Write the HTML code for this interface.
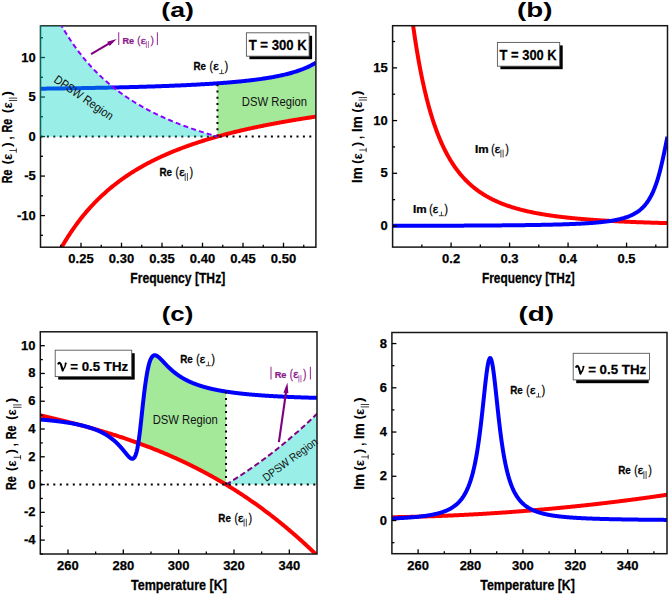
<!DOCTYPE html><html><head><meta charset="utf-8"><style>html,body{margin:0;padding:0;background:#fff;width:669px;height:595px;overflow:hidden}svg{display:block}text{font-family:"Liberation Sans",sans-serif}.tk{font-size:13px;font-weight:bold;stroke:#000;stroke-width:0.25px}</style></head><body>
<svg width="669" height="595" viewBox="0 0 669 595">
<defs>
<clipPath id="ca"><rect x="40.50" y="25.90" width="275.40" height="221.30"/></clipPath>
<clipPath id="cb"><rect x="392.60" y="25.70" width="274.90" height="221.40"/></clipPath>
<clipPath id="cc"><rect x="40.30" y="331.80" width="276.70" height="222.20"/></clipPath>
<clipPath id="cd"><rect x="391.90" y="332.50" width="275.10" height="221.20"/></clipPath>
</defs>
<g clip-path="url(#ca)">
<polygon fill="#a4e89a" points="217.45,83.32 218.70,83.23 219.95,83.14 221.19,83.05 222.44,82.96 223.68,82.86 224.93,82.77 226.18,82.67 227.42,82.57 228.67,82.47 229.91,82.36 231.16,82.26 232.41,82.15 233.65,82.04 234.90,81.93 236.15,81.81 237.39,81.69 238.64,81.58 239.88,81.45 241.13,81.33 242.38,81.20 243.62,81.08 244.87,80.94 246.11,80.81 247.36,80.67 248.61,80.53 249.85,80.39 251.10,80.24 252.35,80.09 253.59,79.94 254.84,79.78 256.08,79.62 257.33,79.46 258.58,79.29 259.82,79.12 261.07,78.94 262.31,78.76 263.56,78.58 264.81,78.39 266.05,78.20 267.30,78.00 268.55,77.80 269.79,77.59 271.04,77.37 272.28,77.15 273.53,76.93 274.78,76.70 276.02,76.46 277.27,76.21 278.52,75.96 279.76,75.70 281.01,75.43 282.25,75.16 283.50,74.88 284.75,74.59 285.99,74.28 287.24,73.97 288.48,73.66 289.73,73.32 290.98,72.98 292.22,72.63 293.47,72.27 294.72,71.89 295.96,71.50 297.21,71.10 298.45,70.68 299.70,70.24 300.95,69.79 302.19,69.32 303.44,68.84 304.68,68.33 305.93,67.80 307.18,67.26 308.42,66.68 309.67,66.09 310.92,65.47 312.16,64.81 313.41,64.13 314.65,63.42 315.90,62.67 315.90,116.60 314.65,116.79 313.41,116.98 312.16,117.17 310.92,117.36 309.67,117.55 308.42,117.74 307.18,117.93 305.93,118.13 304.68,118.33 303.44,118.52 302.19,118.72 300.95,118.92 299.70,119.12 298.45,119.33 297.21,119.53 295.96,119.74 294.72,119.95 293.47,120.15 292.22,120.36 290.98,120.58 289.73,120.79 288.48,121.00 287.24,121.22 285.99,121.44 284.75,121.66 283.50,121.88 282.25,122.10 281.01,122.33 279.76,122.55 278.52,122.78 277.27,123.01 276.02,123.24 274.78,123.47 273.53,123.71 272.28,123.94 271.04,124.18 269.79,124.42 268.55,124.66 267.30,124.91 266.05,125.15 264.81,125.40 263.56,125.65 262.31,125.90 261.07,126.15 259.82,126.41 258.58,126.67 257.33,126.93 256.08,127.19 254.84,127.45 253.59,127.72 252.35,127.99 251.10,128.26 249.85,128.53 248.61,128.81 247.36,129.09 246.11,129.37 244.87,129.65 243.62,129.93 242.38,130.22 241.13,130.51 239.88,130.80 238.64,131.10 237.39,131.40 236.15,131.70 234.90,132.00 233.65,132.30 232.41,132.61 231.16,132.92 229.91,133.24 228.67,133.56 227.42,133.88 226.18,134.20 224.93,134.53 223.68,134.86 222.44,135.19 221.19,135.52 219.95,135.86 218.70,136.20 217.45,136.55"/>
<polyline fill="none" stroke="#0000ff" stroke-width="4.0" points="40.50,88.69 41.42,88.68 42.34,88.67 43.26,88.66 44.18,88.65 45.11,88.64 46.03,88.63 46.95,88.62 47.87,88.61 48.79,88.59 49.71,88.58 50.63,88.57 51.55,88.56 52.47,88.55 53.39,88.54 54.32,88.52 55.24,88.51 56.16,88.50 57.08,88.49 58.00,88.48 58.92,88.46 59.84,88.45 60.76,88.44 61.68,88.43 62.61,88.41 63.53,88.40 64.45,88.39 65.37,88.37 66.29,88.36 67.21,88.35 68.13,88.33 69.05,88.32 69.97,88.31 70.90,88.29 71.82,88.28 72.74,88.26 73.66,88.25 74.58,88.24 75.50,88.22 76.42,88.21 77.34,88.19 78.26,88.18 79.18,88.16 80.11,88.15 81.03,88.13 81.95,88.12 82.87,88.10 83.79,88.09 84.71,88.07 85.63,88.05 86.55,88.04 87.47,88.02 88.40,88.01 89.32,87.99 90.24,87.97 91.16,87.96 92.08,87.94 93.00,87.92 93.92,87.91 94.84,87.89 95.76,87.87 96.69,87.85 97.61,87.84 98.53,87.82 99.45,87.80 100.37,87.78 101.29,87.76 102.21,87.75 103.13,87.73 104.05,87.71 104.97,87.69 105.90,87.67 106.82,87.65 107.74,87.63 108.66,87.61 109.58,87.59 110.50,87.57 111.42,87.55 112.34,87.53 113.26,87.51 114.19,87.49 115.11,87.47 116.03,87.45 116.95,87.43 117.87,87.41 118.79,87.39 119.71,87.36 120.63,87.34 121.55,87.32 122.48,87.30 123.40,87.28 124.32,87.25 125.24,87.23 126.16,87.21 127.08,87.18 128.00,87.16 128.92,87.14 129.84,87.11 130.76,87.09 131.69,87.06 132.61,87.04 133.53,87.02 134.45,86.99 135.37,86.97 136.29,86.94 137.21,86.91 138.13,86.89 139.05,86.86 139.98,86.84 140.90,86.81 141.82,86.78 142.74,86.76 143.66,86.73 144.58,86.70 145.50,86.67 146.42,86.64 147.34,86.62 148.27,86.59 149.19,86.56 150.11,86.53 151.03,86.50 151.95,86.47 152.87,86.44 153.79,86.41 154.71,86.38 155.63,86.35 156.55,86.32 157.48,86.29 158.40,86.25 159.32,86.22 160.24,86.19 161.16,86.16 162.08,86.12 163.00,86.09 163.92,86.06 164.84,86.02 165.77,85.99 166.69,85.95 167.61,85.92 168.53,85.88 169.45,85.85 170.37,85.81 171.29,85.77 172.21,85.74 173.13,85.70 174.06,85.66 174.98,85.62 175.90,85.59 176.82,85.55 177.74,85.51 178.66,85.47 179.58,85.43 180.50,85.39 181.42,85.35 182.34,85.31 183.27,85.26 184.19,85.22 185.11,85.18 186.03,85.14 186.95,85.09 187.87,85.05 188.79,85.00 189.71,84.96 190.63,84.91 191.56,84.87 192.48,84.82 193.40,84.77 194.32,84.72 195.24,84.68 196.16,84.63 197.08,84.58 198.00,84.53 198.92,84.48 199.85,84.43 200.77,84.37 201.69,84.32 202.61,84.27 203.53,84.22 204.45,84.16 205.37,84.11 206.29,84.05 207.21,83.99 208.13,83.94 209.06,83.88 209.98,83.82 210.90,83.76 211.82,83.70 212.74,83.64 213.66,83.58 214.58,83.52 215.50,83.46 216.42,83.39 217.35,83.33 218.27,83.26 219.19,83.20 220.11,83.13 221.03,83.06 221.95,83.00 222.87,82.93 223.79,82.86 224.71,82.78 225.64,82.71 226.56,82.64 227.48,82.56 228.40,82.49 229.32,82.41 230.24,82.33 231.16,82.26 232.08,82.18 233.00,82.10 233.92,82.01 234.85,81.93 235.77,81.85 236.69,81.76 237.61,81.67 238.53,81.59 239.45,81.50 240.37,81.41 241.29,81.31 242.21,81.22 243.14,81.13 244.06,81.03 244.98,80.93 245.90,80.83 246.82,80.73 247.74,80.63 248.66,80.53 249.58,80.42 250.50,80.31 251.43,80.20 252.35,80.09 253.27,79.98 254.19,79.86 255.11,79.75 256.03,79.63 256.95,79.51 257.87,79.39 258.79,79.26 259.71,79.13 260.64,79.01 261.56,78.87 262.48,78.74 263.40,78.60 264.32,78.47 265.24,78.32 266.16,78.18 267.08,78.03 268.00,77.89 268.93,77.73 269.85,77.58 270.77,77.42 271.69,77.26 272.61,77.10 273.53,76.93 274.45,76.76 275.37,76.58 276.29,76.40 277.22,76.22 278.14,76.04 279.06,75.85 279.98,75.66 280.90,75.46 281.82,75.26 282.74,75.05 283.66,74.84 284.58,74.62 285.50,74.40 286.43,74.18 287.35,73.95 288.27,73.71 289.19,73.47 290.11,73.22 291.03,72.97 291.95,72.71 292.87,72.44 293.79,72.17 294.72,71.89 295.64,71.60 296.56,71.31 297.48,71.01 298.40,70.70 299.32,70.38 300.24,70.05 301.16,69.71 302.08,69.36 303.01,69.01 303.93,68.64 304.85,68.26 305.77,67.87 306.69,67.47 307.61,67.06 308.53,66.63 309.45,66.19 310.37,65.74 311.29,65.27 312.22,64.78 313.14,64.28 314.06,63.76 314.98,63.23 315.90,62.67"/>
<polyline fill="none" stroke="#ff0000" stroke-width="4.0" points="52.65,264.37 53.53,262.57 54.41,260.79 55.29,259.05 56.17,257.33 57.05,255.64 57.93,253.97 58.81,252.34 59.69,250.73 60.57,249.14 61.45,247.58 62.33,246.04 63.22,244.53 64.10,243.04 64.98,241.58 65.86,240.13 66.74,238.71 67.62,237.31 68.50,235.93 69.38,234.57 70.26,233.23 71.14,231.91 72.02,230.61 72.90,229.33 73.78,228.06 74.66,226.82 75.54,225.59 76.42,224.38 77.30,223.19 78.18,222.02 79.06,220.86 79.94,219.71 80.82,218.59 81.70,217.47 82.58,216.38 83.47,215.30 84.35,214.23 85.23,213.18 86.11,212.14 86.99,211.11 87.87,210.10 88.75,209.10 89.63,208.12 90.51,207.15 91.39,206.19 92.27,205.24 93.15,204.30 94.03,203.38 94.91,202.47 95.79,201.57 96.67,200.68 97.55,199.80 98.43,198.94 99.31,198.08 100.19,197.24 101.07,196.40 101.95,195.58 102.83,194.76 103.72,193.96 104.60,193.16 105.48,192.38 106.36,191.60 107.24,190.84 108.12,190.08 109.00,189.33 109.88,188.59 110.76,187.86 111.64,187.13 112.52,186.42 113.40,185.71 114.28,185.01 115.16,184.32 116.04,183.64 116.92,182.96 117.80,182.30 118.68,181.63 119.56,180.98 120.44,180.34 121.32,179.70 122.20,179.07 123.08,178.44 123.97,177.82 124.85,177.21 125.73,176.61 126.61,176.01 127.49,175.41 128.37,174.83 129.25,174.25 130.13,173.68 131.01,173.11 131.89,172.55 132.77,171.99 133.65,171.44 134.53,170.89 135.41,170.36 136.29,169.82 137.17,169.29 138.05,168.77 138.93,168.25 139.81,167.74 140.69,167.23 141.57,166.73 142.45,166.23 143.33,165.74 144.22,165.25 145.10,164.77 145.98,164.29 146.86,163.82 147.74,163.35 148.62,162.88 149.50,162.42 150.38,161.96 151.26,161.51 152.14,161.07 153.02,160.62 153.90,160.18 154.78,159.75 155.66,159.32 156.54,158.89 157.42,158.46 158.30,158.05 159.18,157.63 160.06,157.22 160.94,156.81 161.82,156.40 162.70,156.00 163.58,155.61 164.47,155.21 165.35,154.82 166.23,154.43 167.11,154.05 167.99,153.67 168.87,153.29 169.75,152.92 170.63,152.55 171.51,152.18 172.39,151.82 173.27,151.45 174.15,151.10 175.03,150.74 175.91,150.39 176.79,150.04 177.67,149.69 178.55,149.35 179.43,149.01 180.31,148.67 181.19,148.33 182.07,148.00 182.95,147.67 183.83,147.34 184.72,147.02 185.60,146.70 186.48,146.38 187.36,146.06 188.24,145.75 189.12,145.43 190.00,145.12 190.88,144.82 191.76,144.51 192.64,144.21 193.52,143.91 194.40,143.61 195.28,143.32 196.16,143.02 197.04,142.73 197.92,142.44 198.80,142.16 199.68,141.87 200.56,141.59 201.44,141.31 202.32,141.03 203.20,140.75 204.08,140.48 204.97,140.21 205.85,139.94 206.73,139.67 207.61,139.40 208.49,139.14 209.37,138.88 210.25,138.62 211.13,138.36 212.01,138.10 212.89,137.84 213.77,137.59 214.65,137.34 215.53,137.09 216.41,136.84 217.29,136.60 218.17,136.35 219.05,136.11 219.93,135.87 220.81,135.63 221.69,135.39 222.57,135.15 223.45,134.92 224.33,134.68 225.22,134.45 226.10,134.22 226.98,133.99 227.86,133.76 228.74,133.54 229.62,133.31 230.50,133.09 231.38,132.87 232.26,132.65 233.14,132.43 234.02,132.21 234.90,132.00 235.78,131.78 236.66,131.57 237.54,131.36 238.42,131.15 239.30,130.94 240.18,130.73 241.06,130.53 241.94,130.32 242.82,130.12 243.70,129.91 244.58,129.71 245.47,129.51 246.35,129.31 247.23,129.12 248.11,128.92 248.99,128.72 249.87,128.53 250.75,128.34 251.63,128.14 252.51,127.95 253.39,127.76 254.27,127.58 255.15,127.39 256.03,127.20 256.91,127.02 257.79,126.83 258.67,126.65 259.55,126.47 260.43,126.29 261.31,126.10 262.19,125.93 263.07,125.75 263.95,125.57 264.83,125.39 265.72,125.22 266.60,125.05 267.48,124.87 268.36,124.70 269.24,124.53 270.12,124.36 271.00,124.19 271.88,124.02 272.76,123.85 273.64,123.69 274.52,123.52 275.40,123.36 276.28,123.19 277.16,123.03 278.04,122.87 278.92,122.70 279.80,122.54 280.68,122.38 281.56,122.23 282.44,122.07 283.32,121.91 284.20,121.75 285.08,121.60 285.97,121.44 286.85,121.29 287.73,121.14 288.61,120.98 289.49,120.83 290.37,120.68 291.25,120.53 292.13,120.38 293.01,120.23 293.89,120.08 294.77,119.94 295.65,119.79 296.53,119.64 297.41,119.50 298.29,119.35 299.17,119.21 300.05,119.07 300.93,118.93 301.81,118.78 302.69,118.64 303.57,118.50 304.45,118.36 305.33,118.22 306.22,118.08 307.10,117.95 307.98,117.81 308.86,117.67 309.74,117.54 310.62,117.40 311.50,117.27 312.38,117.13 313.26,117.00 314.14,116.87 315.02,116.74 315.90,116.60"/>
</g>
<line x1="40.50" y1="136.55" x2="315.90" y2="136.55" stroke="#000" stroke-width="2" stroke-dasharray="2,4.4"/>
<line x1="217.45" y1="136.55" x2="217.45" y2="83.32" stroke="#000" stroke-width="2" stroke-dasharray="2,4.3"/>
<rect x="40.50" y="25.90" width="275.40" height="221.30" fill="none" stroke="#161616" stroke-width="1.5"/>
<line x1="81.00" y1="247.20" x2="81.00" y2="242.70" stroke="#000" stroke-width="1.3"/>
<text x="81.00" y="262.80" text-anchor="middle" class="tk">0.25</text>
<line x1="121.50" y1="247.20" x2="121.50" y2="242.70" stroke="#000" stroke-width="1.3"/>
<text x="121.50" y="262.80" text-anchor="middle" class="tk">0.30</text>
<line x1="162.00" y1="247.20" x2="162.00" y2="242.70" stroke="#000" stroke-width="1.3"/>
<text x="162.00" y="262.80" text-anchor="middle" class="tk">0.35</text>
<line x1="202.50" y1="247.20" x2="202.50" y2="242.70" stroke="#000" stroke-width="1.3"/>
<text x="202.50" y="262.80" text-anchor="middle" class="tk">0.40</text>
<line x1="243.00" y1="247.20" x2="243.00" y2="242.70" stroke="#000" stroke-width="1.3"/>
<text x="243.00" y="262.80" text-anchor="middle" class="tk">0.45</text>
<line x1="283.50" y1="247.20" x2="283.50" y2="242.70" stroke="#000" stroke-width="1.3"/>
<text x="283.50" y="262.80" text-anchor="middle" class="tk">0.50</text>
<line x1="60.75" y1="247.20" x2="60.75" y2="244.70" stroke="#000" stroke-width="1.3"/>
<line x1="101.25" y1="247.20" x2="101.25" y2="244.70" stroke="#000" stroke-width="1.3"/>
<line x1="141.75" y1="247.20" x2="141.75" y2="244.70" stroke="#000" stroke-width="1.3"/>
<line x1="182.25" y1="247.20" x2="182.25" y2="244.70" stroke="#000" stroke-width="1.3"/>
<line x1="222.75" y1="247.20" x2="222.75" y2="244.70" stroke="#000" stroke-width="1.3"/>
<line x1="263.25" y1="247.20" x2="263.25" y2="244.70" stroke="#000" stroke-width="1.3"/>
<line x1="303.75" y1="247.20" x2="303.75" y2="244.70" stroke="#000" stroke-width="1.3"/>
<line x1="40.50" y1="215.59" x2="45.00" y2="215.59" stroke="#000" stroke-width="1.3"/>
<text x="35.70" y="219.59" text-anchor="end" class="tk">-10</text>
<line x1="40.50" y1="176.07" x2="45.00" y2="176.07" stroke="#000" stroke-width="1.3"/>
<text x="35.70" y="180.07" text-anchor="end" class="tk">-5</text>
<line x1="40.50" y1="136.55" x2="45.00" y2="136.55" stroke="#000" stroke-width="1.3"/>
<text x="35.70" y="140.55" text-anchor="end" class="tk">0</text>
<line x1="40.50" y1="97.03" x2="45.00" y2="97.03" stroke="#000" stroke-width="1.3"/>
<text x="35.70" y="101.03" text-anchor="end" class="tk">5</text>
<line x1="40.50" y1="57.51" x2="45.00" y2="57.51" stroke="#000" stroke-width="1.3"/>
<text x="35.70" y="61.51" text-anchor="end" class="tk">10</text>
<line x1="40.50" y1="235.34" x2="43.00" y2="235.34" stroke="#000" stroke-width="1.3"/>
<line x1="40.50" y1="195.83" x2="43.00" y2="195.83" stroke="#000" stroke-width="1.3"/>
<line x1="40.50" y1="156.31" x2="43.00" y2="156.31" stroke="#000" stroke-width="1.3"/>
<line x1="40.50" y1="116.79" x2="43.00" y2="116.79" stroke="#000" stroke-width="1.3"/>
<line x1="40.50" y1="77.27" x2="43.00" y2="77.27" stroke="#000" stroke-width="1.3"/>
<line x1="40.50" y1="37.76" x2="43.00" y2="37.76" stroke="#000" stroke-width="1.3"/>
<polygon fill="rgba(0,214,196,0.40)" points="39.80,25.20 40.50,25.20 41.39,25.90 42.28,25.90 43.17,25.90 44.06,25.90 44.95,25.90 45.84,25.90 46.72,25.90 47.61,25.90 48.50,25.90 49.39,25.90 50.28,25.90 51.17,25.90 52.06,25.90 52.95,25.90 53.84,25.90 54.73,25.90 55.62,25.90 56.51,25.90 57.40,25.90 58.28,25.90 59.17,25.90 60.06,25.90 60.95,25.90 61.84,26.20 62.73,27.74 63.62,29.26 64.51,30.75 65.40,32.22 66.29,33.67 67.18,35.09 68.07,36.50 68.95,37.88 69.84,39.24 70.73,40.58 71.62,41.91 72.51,43.21 73.40,44.49 74.29,45.76 75.18,47.00 76.07,48.23 76.96,49.44 77.85,50.64 78.74,51.82 79.63,52.98 80.51,54.12 81.40,55.25 82.29,56.36 83.18,57.46 84.07,58.54 84.96,59.61 85.85,60.66 86.74,61.70 87.63,62.73 88.52,63.74 89.41,64.74 90.30,65.72 91.19,66.69 92.07,67.65 92.96,68.60 93.85,69.53 94.74,70.46 95.63,71.37 96.52,72.27 97.41,73.15 98.30,74.03 99.19,74.90 100.08,75.75 100.97,76.60 101.86,77.43 102.74,78.25 103.63,79.07 104.52,79.87 105.41,80.67 106.30,81.45 107.19,82.22 108.08,82.99 108.97,83.75 109.86,84.50 110.75,85.23 111.64,85.97 112.53,86.69 113.42,87.40 114.30,88.11 115.19,88.80 116.08,89.49 116.97,90.18 117.86,90.85 118.75,91.52 119.64,92.17 120.53,92.83 121.42,93.47 122.31,94.11 123.20,94.74 124.09,95.36 124.98,95.98 125.86,96.59 126.75,97.19 127.64,97.79 128.53,98.38 129.42,98.96 130.31,99.54 131.20,100.11 132.09,100.68 132.98,101.24 133.87,101.80 134.76,102.34 135.65,102.89 136.53,103.43 137.42,103.96 138.31,104.48 139.20,105.01 140.09,105.52 140.98,106.03 141.87,106.54 142.76,107.04 143.65,107.54 144.54,108.03 145.43,108.51 146.32,108.99 147.21,109.47 148.09,109.94 148.98,110.41 149.87,110.87 150.76,111.33 151.65,111.79 152.54,112.24 153.43,112.68 154.32,113.13 155.21,113.56 156.10,114.00 156.99,114.43 157.88,114.85 158.77,115.27 159.65,115.69 160.54,116.11 161.43,116.52 162.32,116.92 163.21,117.33 164.10,117.73 164.99,118.12 165.88,118.51 166.77,118.90 167.66,119.29 168.55,119.67 169.44,120.05 170.32,120.42 171.21,120.80 172.10,121.17 172.99,121.53 173.88,121.90 174.77,122.26 175.66,122.61 176.55,122.97 177.44,123.32 178.33,123.66 179.22,124.01 180.11,124.35 181.00,124.69 181.88,125.03 182.77,125.36 183.66,125.69 184.55,126.02 185.44,126.35 186.33,126.67 187.22,126.99 188.11,127.31 189.00,127.62 189.89,127.94 190.78,128.25 191.67,128.56 192.56,128.86 193.44,129.16 194.33,129.47 195.22,129.76 196.11,130.06 197.00,130.35 197.89,130.65 198.78,130.94 199.67,131.22 200.56,131.51 201.45,131.79 202.34,132.07 203.23,132.35 204.11,132.63 205.00,132.90 205.89,133.18 206.78,133.45 207.67,133.72 208.56,133.98 209.45,134.25 210.34,134.51 211.23,134.77 212.12,135.03 213.01,135.29 213.90,135.55 214.79,135.80 215.67,136.05 216.56,136.30 217.45,136.55 217.45,136.85 39.80,136.85"/>
<g clip-path="url(#ca)">
<polyline fill="none" stroke="#8a00ff" stroke-width="2" stroke-dasharray="5,3.2" points="52.65,8.73 53.48,10.42 54.31,12.10 55.13,13.74 55.96,15.37 56.79,16.96 57.62,18.54 58.45,20.09 59.28,21.61 60.10,23.11 60.93,24.60 61.76,26.06 62.59,27.49 63.42,28.91 64.24,30.31 65.07,31.68 65.90,33.04 66.73,34.38 67.56,35.70 68.38,37.00 69.21,38.28 70.04,39.54 70.87,40.79 71.70,42.02 72.53,43.23 73.35,44.43 74.18,45.61 75.01,46.77 75.84,47.92 76.67,49.05 77.49,50.17 78.32,51.27 79.15,52.36 79.98,53.43 80.81,54.49 81.64,55.54 82.46,56.57 83.29,57.59 84.12,58.60 84.95,59.59 85.78,60.58 86.60,61.54 87.43,62.50 88.26,63.45 89.09,64.38 89.92,65.30 90.75,66.21 91.57,67.11 92.40,68.00 93.23,68.88 94.06,69.75 94.89,70.60 95.71,71.45 96.54,72.29 97.37,73.12 98.20,73.93 99.03,74.74 99.85,75.54 100.68,76.33 101.51,77.11 102.34,77.88 103.17,78.64 104.00,79.40 104.82,80.14 105.65,80.88 106.48,81.61 107.31,82.33 108.14,83.04 108.96,83.74 109.79,84.44 110.62,85.13 111.45,85.81 112.28,86.49 113.11,87.15 113.93,87.81 114.76,88.47 115.59,89.11 116.42,89.75 117.25,90.38 118.07,91.01 118.90,91.63 119.73,92.24 120.56,92.85 121.39,93.45 122.22,94.04 123.04,94.63 123.87,95.21 124.70,95.79 125.53,96.36 126.36,96.92 127.18,97.48 128.01,98.04 128.84,98.58 129.67,99.13 130.50,99.66 131.32,100.20 132.15,100.72 132.98,101.24 133.81,101.76 134.64,102.27 135.47,102.78 136.29,103.28 137.12,103.78 137.95,104.27 138.78,104.76 139.61,105.24 140.43,105.72 141.26,106.19 142.09,106.66 142.92,107.13 143.75,107.59 144.58,108.05 145.40,108.50 146.23,108.95 147.06,109.39 147.89,109.83 148.72,110.27 149.54,110.70 150.37,111.13 151.20,111.56 152.03,111.98 152.86,112.40 153.68,112.81 154.51,113.22 155.34,113.63 156.17,114.03 157.00,114.43 157.83,114.83 158.65,115.22 159.48,115.61 160.31,116.00 161.14,116.38 161.97,116.76 162.79,117.14 163.62,117.51 164.45,117.88 165.28,118.25 166.11,118.61 166.94,118.98 167.76,119.33 168.59,119.69 169.42,120.04 170.25,120.39 171.08,120.74 171.90,121.08 172.73,121.43 173.56,121.76 174.39,122.10 175.22,122.43 176.05,122.77 176.87,123.09 177.70,123.42 178.53,123.74 179.36,124.06 180.19,124.38 181.01,124.70 181.84,125.01 182.67,125.32 183.50,125.63 184.33,125.94 185.15,126.24 185.98,126.54 186.81,126.84 187.64,127.14 188.47,127.44 189.30,127.73 190.12,128.02 190.95,128.31 191.78,128.59 192.61,128.88 193.44,129.16 194.26,129.44 195.09,129.72 195.92,130.00 196.75,130.27 197.58,130.54 198.41,130.81 199.23,131.08 200.06,131.35 200.89,131.61 201.72,131.88 202.55,132.14 203.37,132.40 204.20,132.66 205.03,132.91 205.86,133.17 206.69,133.42 207.52,133.67 208.34,133.92 209.17,134.17 210.00,134.41 210.83,134.66 211.66,134.90 212.48,135.14 213.31,135.38 214.14,135.61 214.97,135.85 215.80,136.09 216.62,136.32 217.45,136.55"/>
</g>
<g clip-path="url(#cb)">
<polyline fill="none" stroke="#ff0000" stroke-width="4.0" points="404.30,-53.37 404.96,-46.18 405.62,-39.22 406.28,-32.50 406.94,-26.00 407.60,-19.71 408.26,-13.62 408.92,-7.74 409.58,-2.04 410.23,3.48 410.89,8.83 411.55,14.00 412.21,19.02 412.87,23.88 413.53,28.59 414.19,33.16 414.85,37.59 415.51,41.89 416.17,46.06 416.83,50.11 417.49,54.04 418.15,57.85 418.81,61.55 419.47,65.15 420.13,68.64 420.79,72.04 421.45,75.34 422.11,78.54 422.77,81.66 423.43,84.69 424.09,87.64 424.75,90.50 425.41,93.29 426.07,96.00 426.73,98.65 427.39,101.22 428.05,103.72 428.71,106.16 429.36,108.53 430.02,110.84 430.68,113.09 431.34,115.29 432.00,117.42 432.66,119.51 433.32,121.54 433.98,123.52 434.64,125.45 435.30,127.34 435.96,129.17 436.62,130.96 437.28,132.71 437.94,134.42 438.60,136.09 439.26,137.71 439.92,139.30 440.58,140.85 441.24,142.36 441.90,143.84 442.56,145.28 443.22,146.69 443.88,148.07 444.54,149.42 445.20,150.73 445.86,152.02 446.52,153.27 447.18,154.50 447.84,155.70 448.49,156.88 449.15,158.03 449.81,159.15 450.47,160.25 451.13,161.33 451.79,162.38 452.45,163.41 453.11,164.42 453.77,165.40 454.43,166.37 455.09,167.32 455.75,168.24 456.41,169.15 457.07,170.04 457.73,170.90 458.39,171.76 459.05,172.59 459.71,173.41 460.37,174.21 461.03,174.99 461.69,175.76 462.35,176.52 463.01,177.26 463.67,177.98 464.33,178.69 464.99,179.39 465.65,180.07 466.31,180.74 466.97,181.40 467.62,182.04 468.28,182.67 468.94,183.29 469.60,183.90 470.26,184.50 470.92,185.08 471.58,185.66 472.24,186.22 472.90,186.77 473.56,187.32 474.22,187.85 474.88,188.37 475.54,188.89 476.20,189.39 476.86,189.89 477.52,190.38 478.18,190.86 478.84,191.33 479.50,191.79 480.16,192.24 480.82,192.69 481.48,193.12 482.14,193.55 482.80,193.98 483.46,194.39 484.12,194.80 484.78,195.20 485.44,195.60 486.10,195.98 486.75,196.37 487.41,196.74 488.07,197.11 488.73,197.47 489.39,197.83 490.05,198.18 490.71,198.52 491.37,198.86 492.03,199.20 492.69,199.52 493.35,199.85 494.01,200.17 494.67,200.48 495.33,200.79 495.99,201.09 496.65,201.39 497.31,201.68 497.97,201.97 498.63,202.25 499.29,202.53 499.95,202.81 500.61,203.08 501.27,203.34 501.93,203.61 502.59,203.87 503.25,204.12 503.91,204.37 504.57,204.62 505.23,204.86 505.88,205.10 506.54,205.34 507.20,205.57 507.86,205.80 508.52,206.02 509.18,206.25 509.84,206.47 510.50,206.68 511.16,206.89 511.82,207.10 512.48,207.31 513.14,207.51 513.80,207.71 514.46,207.91 515.12,208.11 515.78,208.30 516.44,208.49 517.10,208.67 517.76,208.86 518.42,209.04 519.08,209.22 519.74,209.40 520.40,209.57 521.06,209.74 521.72,209.91 522.38,210.08 523.04,210.24 523.70,210.40 524.35,210.56 525.01,210.72 525.67,210.88 526.33,211.03 526.99,211.18 527.65,211.33 528.31,211.48 528.97,211.63 529.63,211.77 530.29,211.91 530.95,212.05 531.61,212.19 532.27,212.33 532.93,212.46 533.59,212.59 534.25,212.72 534.91,212.85 535.57,212.98 536.23,213.11 536.89,213.23 537.55,213.35 538.21,213.48 538.87,213.59 539.53,213.71 540.19,213.83 540.85,213.95 541.51,214.06 542.17,214.17 542.83,214.28 543.48,214.39 544.14,214.50 544.80,214.61 545.46,214.71 546.12,214.82 546.78,214.92 547.44,215.02 548.10,215.12 548.76,215.22 549.42,215.32 550.08,215.42 550.74,215.51 551.40,215.61 552.06,215.70 552.72,215.79 553.38,215.88 554.04,215.97 554.70,216.06 555.36,216.15 556.02,216.24 556.68,216.32 557.34,216.41 558.00,216.49 558.66,216.58 559.32,216.66 559.98,216.74 560.64,216.82 561.30,216.90 561.96,216.98 562.61,217.05 563.27,217.13 563.93,217.21 564.59,217.28 565.25,217.36 565.91,217.43 566.57,217.50 567.23,217.57 567.89,217.64 568.55,217.71 569.21,217.78 569.87,217.85 570.53,217.92 571.19,217.99 571.85,218.05 572.51,218.12 573.17,218.18 573.83,218.25 574.49,218.31 575.15,218.37 575.81,218.43 576.47,218.50 577.13,218.56 577.79,218.62 578.45,218.68 579.11,218.73 579.77,218.79 580.43,218.85 581.09,218.91 581.74,218.96 582.40,219.02 583.06,219.07 583.72,219.13 584.38,219.18 585.04,219.24 585.70,219.29 586.36,219.34 587.02,219.39 587.68,219.44 588.34,219.49 589.00,219.54 589.66,219.59 590.32,219.64 590.98,219.69 591.64,219.74 592.30,219.79 592.96,219.84 593.62,219.88 594.28,219.93 594.94,219.97 595.60,220.02 596.26,220.06 596.92,220.11 597.58,220.15 598.24,220.20 598.90,220.24 599.56,220.28 600.22,220.32 600.87,220.37 601.53,220.41 602.19,220.45 602.85,220.49 603.51,220.53 604.17,220.57 604.83,220.61 605.49,220.65 606.15,220.69 606.81,220.73 607.47,220.76 608.13,220.80 608.79,220.84 609.45,220.88 610.11,220.91 610.77,220.95 611.43,220.98 612.09,221.02 612.75,221.05 613.41,221.09 614.07,221.12 614.73,221.16 615.39,221.19 616.05,221.23 616.71,221.26 617.37,221.29 618.03,221.32 618.69,221.36 619.35,221.39 620.00,221.42 620.66,221.45 621.32,221.48 621.98,221.51 622.64,221.55 623.30,221.58 623.96,221.61 624.62,221.64 625.28,221.67 625.94,221.69 626.60,221.72 627.26,221.75 627.92,221.78 628.58,221.81 629.24,221.84 629.90,221.86 630.56,221.89 631.22,221.92 631.88,221.95 632.54,221.97 633.20,222.00 633.86,222.03 634.52,222.05 635.18,222.08 635.84,222.10 636.50,222.13 637.16,222.15 637.82,222.18 638.48,222.20 639.13,222.23 639.79,222.25 640.45,222.28 641.11,222.30 641.77,222.33 642.43,222.35 643.09,222.37 643.75,222.40 644.41,222.42 645.07,222.44 645.73,222.46 646.39,222.49 647.05,222.51 647.71,222.53 648.37,222.55 649.03,222.57 649.69,222.59 650.35,222.62 651.01,222.64 651.67,222.66 652.33,222.68 652.99,222.70 653.65,222.72 654.31,222.74 654.97,222.76 655.63,222.78 656.29,222.80 656.95,222.82 657.61,222.84 658.26,222.86 658.92,222.88 659.58,222.90 660.24,222.91 660.90,222.93 661.56,222.95 662.22,222.97 662.88,222.99 663.54,223.01 664.20,223.02 664.86,223.04 665.52,223.06 666.18,223.08 666.84,223.09 667.50,223.11"/>
<polyline fill="none" stroke="#0000ff" stroke-width="4.0" points="392.60,225.88 393.29,225.88 393.98,225.87 394.67,225.87 395.36,225.87 396.04,225.87 396.73,225.87 397.42,225.87 398.11,225.86 398.80,225.86 399.49,225.86 400.18,225.86 400.87,225.86 401.56,225.85 402.25,225.85 402.93,225.85 403.62,225.85 404.31,225.85 405.00,225.84 405.69,225.84 406.38,225.84 407.07,225.84 407.76,225.84 408.45,225.83 409.14,225.83 409.82,225.83 410.51,225.83 411.20,225.83 411.89,225.82 412.58,225.82 413.27,225.82 413.96,225.82 414.65,225.82 415.34,225.81 416.03,225.81 416.71,225.81 417.40,225.81 418.09,225.81 418.78,225.80 419.47,225.80 420.16,225.80 420.85,225.80 421.54,225.79 422.23,225.79 422.91,225.79 423.60,225.79 424.29,225.79 424.98,225.78 425.67,225.78 426.36,225.78 427.05,225.78 427.74,225.77 428.43,225.77 429.12,225.77 429.80,225.77 430.49,225.76 431.18,225.76 431.87,225.76 432.56,225.76 433.25,225.75 433.94,225.75 434.63,225.75 435.32,225.75 436.01,225.74 436.69,225.74 437.38,225.74 438.07,225.74 438.76,225.73 439.45,225.73 440.14,225.73 440.83,225.73 441.52,225.72 442.21,225.72 442.89,225.72 443.58,225.72 444.27,225.71 444.96,225.71 445.65,225.71 446.34,225.70 447.03,225.70 447.72,225.70 448.41,225.70 449.10,225.69 449.78,225.69 450.47,225.69 451.16,225.68 451.85,225.68 452.54,225.68 453.23,225.67 453.92,225.67 454.61,225.67 455.30,225.67 455.99,225.66 456.67,225.66 457.36,225.66 458.05,225.65 458.74,225.65 459.43,225.65 460.12,225.64 460.81,225.64 461.50,225.64 462.19,225.63 462.88,225.63 463.56,225.63 464.25,225.62 464.94,225.62 465.63,225.62 466.32,225.61 467.01,225.61 467.70,225.60 468.39,225.60 469.08,225.60 469.76,225.59 470.45,225.59 471.14,225.59 471.83,225.58 472.52,225.58 473.21,225.57 473.90,225.57 474.59,225.57 475.28,225.56 475.97,225.56 476.65,225.55 477.34,225.55 478.03,225.55 478.72,225.54 479.41,225.54 480.10,225.53 480.79,225.53 481.48,225.52 482.17,225.52 482.86,225.52 483.54,225.51 484.23,225.51 484.92,225.50 485.61,225.50 486.30,225.49 486.99,225.49 487.68,225.48 488.37,225.48 489.06,225.47 489.75,225.47 490.43,225.46 491.12,225.46 491.81,225.45 492.50,225.45 493.19,225.44 493.88,225.44 494.57,225.43 495.26,225.43 495.95,225.42 496.63,225.42 497.32,225.41 498.01,225.40 498.70,225.40 499.39,225.39 500.08,225.39 500.77,225.38 501.46,225.38 502.15,225.37 502.84,225.36 503.52,225.36 504.21,225.35 504.90,225.35 505.59,225.34 506.28,225.33 506.97,225.33 507.66,225.32 508.35,225.31 509.04,225.31 509.73,225.30 510.41,225.29 511.10,225.29 511.79,225.28 512.48,225.27 513.17,225.26 513.86,225.26 514.55,225.25 515.24,225.24 515.93,225.23 516.62,225.23 517.30,225.22 517.99,225.21 518.68,225.20 519.37,225.19 520.06,225.19 520.75,225.18 521.44,225.17 522.13,225.16 522.82,225.15 523.50,225.14 524.19,225.13 524.88,225.13 525.57,225.12 526.26,225.11 526.95,225.10 527.64,225.09 528.33,225.08 529.02,225.07 529.71,225.06 530.39,225.05 531.08,225.04 531.77,225.03 532.46,225.02 533.15,225.01 533.84,225.00 534.53,224.99 535.22,224.97 535.91,224.96 536.60,224.95 537.28,224.94 537.97,224.93 538.66,224.92 539.35,224.90 540.04,224.89 540.73,224.88 541.42,224.87 542.11,224.85 542.80,224.84 543.48,224.83 544.17,224.82 544.86,224.80 545.55,224.79 546.24,224.77 546.93,224.76 547.62,224.74 548.31,224.73 549.00,224.71 549.69,224.70 550.37,224.68 551.06,224.67 551.75,224.65 552.44,224.64 553.13,224.62 553.82,224.60 554.51,224.59 555.20,224.57 555.89,224.55 556.58,224.53 557.26,224.51 557.95,224.50 558.64,224.48 559.33,224.46 560.02,224.44 560.71,224.42 561.40,224.40 562.09,224.38 562.78,224.36 563.47,224.33 564.15,224.31 564.84,224.29 565.53,224.27 566.22,224.24 566.91,224.22 567.60,224.20 568.29,224.17 568.98,224.15 569.67,224.12 570.35,224.10 571.04,224.07 571.73,224.04 572.42,224.02 573.11,223.99 573.80,223.96 574.49,223.93 575.18,223.90 575.87,223.87 576.56,223.84 577.24,223.81 577.93,223.78 578.62,223.74 579.31,223.71 580.00,223.68 580.69,223.64 581.38,223.60 582.07,223.57 582.76,223.53 583.45,223.49 584.13,223.45 584.82,223.41 585.51,223.37 586.20,223.33 586.89,223.29 587.58,223.24 588.27,223.20 588.96,223.15 589.65,223.11 590.34,223.06 591.02,223.01 591.71,222.96 592.40,222.91 593.09,222.85 593.78,222.80 594.47,222.74 595.16,222.69 595.85,222.63 596.54,222.57 597.22,222.51 597.91,222.44 598.60,222.38 599.29,222.31 599.98,222.25 600.67,222.18 601.36,222.10 602.05,222.03 602.74,221.95 603.43,221.88 604.11,221.80 604.80,221.71 605.49,221.63 606.18,221.54 606.87,221.45 607.56,221.36 608.25,221.26 608.94,221.16 609.63,221.06 610.32,220.96 611.00,220.85 611.69,220.74 612.38,220.63 613.07,220.51 613.76,220.39 614.45,220.26 615.14,220.13 615.83,220.00 616.52,219.86 617.21,219.71 617.89,219.56 618.58,219.41 619.27,219.25 619.96,219.09 620.65,218.92 621.34,218.74 622.03,218.56 622.72,218.37 623.41,218.17 624.09,217.97 624.78,217.75 625.47,217.53 626.16,217.31 626.85,217.07 627.54,216.82 628.23,216.56 628.92,216.30 629.61,216.02 630.30,215.73 630.98,215.42 631.67,215.11 632.36,214.78 633.05,214.43 633.74,214.08 634.43,213.70 635.12,213.31 635.81,212.90 636.50,212.47 637.19,212.02 637.87,211.55 638.56,211.05 639.25,210.53 639.94,209.99 640.63,209.42 641.32,208.82 642.01,208.19 642.70,207.53 643.39,206.83 644.07,206.09 644.76,205.32 645.45,204.50 646.14,203.64 646.83,202.73 647.52,201.77 648.21,200.76 648.90,199.68 649.59,198.55 650.28,197.35 650.96,196.08 651.65,194.74 652.34,193.32 653.03,191.82 653.72,190.22 654.41,188.54 655.10,186.75 655.79,184.87 656.48,182.87 657.17,180.76 657.85,178.54 658.54,176.20 659.23,173.73 659.92,171.14 660.61,168.43 661.30,165.60 661.99,162.65 662.68,159.59 663.37,156.44 664.06,153.21 664.74,149.92 665.43,146.60 666.12,143.28 666.81,140.00 667.50,136.79"/>
</g>
<rect x="392.60" y="25.70" width="274.90" height="221.40" fill="none" stroke="#161616" stroke-width="1.5"/>
<line x1="451.09" y1="247.10" x2="451.09" y2="242.60" stroke="#000" stroke-width="1.3"/>
<text x="451.09" y="262.80" text-anchor="middle" class="tk">0.2</text>
<line x1="509.58" y1="247.10" x2="509.58" y2="242.60" stroke="#000" stroke-width="1.3"/>
<text x="509.58" y="262.80" text-anchor="middle" class="tk">0.3</text>
<line x1="568.07" y1="247.10" x2="568.07" y2="242.60" stroke="#000" stroke-width="1.3"/>
<text x="568.07" y="262.80" text-anchor="middle" class="tk">0.4</text>
<line x1="626.56" y1="247.10" x2="626.56" y2="242.60" stroke="#000" stroke-width="1.3"/>
<text x="626.56" y="262.80" text-anchor="middle" class="tk">0.5</text>
<line x1="421.84" y1="247.10" x2="421.84" y2="244.60" stroke="#000" stroke-width="1.3"/>
<line x1="480.33" y1="247.10" x2="480.33" y2="244.60" stroke="#000" stroke-width="1.3"/>
<line x1="538.82" y1="247.10" x2="538.82" y2="244.60" stroke="#000" stroke-width="1.3"/>
<line x1="597.31" y1="247.10" x2="597.31" y2="244.60" stroke="#000" stroke-width="1.3"/>
<line x1="655.80" y1="247.10" x2="655.80" y2="244.60" stroke="#000" stroke-width="1.3"/>
<line x1="392.60" y1="226.01" x2="397.10" y2="226.01" stroke="#000" stroke-width="1.3"/>
<text x="387.80" y="230.01" text-anchor="end" class="tk">0</text>
<line x1="392.60" y1="173.30" x2="397.10" y2="173.30" stroke="#000" stroke-width="1.3"/>
<text x="387.80" y="177.30" text-anchor="end" class="tk">5</text>
<line x1="392.60" y1="120.59" x2="397.10" y2="120.59" stroke="#000" stroke-width="1.3"/>
<text x="387.80" y="124.59" text-anchor="end" class="tk">10</text>
<line x1="392.60" y1="67.87" x2="397.10" y2="67.87" stroke="#000" stroke-width="1.3"/>
<text x="387.80" y="71.87" text-anchor="end" class="tk">15</text>
<line x1="392.60" y1="199.66" x2="395.10" y2="199.66" stroke="#000" stroke-width="1.3"/>
<line x1="392.60" y1="146.94" x2="395.10" y2="146.94" stroke="#000" stroke-width="1.3"/>
<line x1="392.60" y1="94.23" x2="395.10" y2="94.23" stroke="#000" stroke-width="1.3"/>
<line x1="392.60" y1="41.51" x2="395.10" y2="41.51" stroke="#000" stroke-width="1.3"/>
<g clip-path="url(#cc)">
<polygon fill="#a4e89a" points="138.34,443.08 139.07,438.05 139.81,432.31 140.55,425.98 141.28,419.26 142.02,412.38 142.76,405.56 143.49,398.96 144.23,392.72 144.97,386.92 145.70,381.59 146.44,376.78 147.18,372.50 147.91,368.75 148.65,365.53 149.39,362.83 150.13,360.62 150.86,358.85 151.60,357.49 152.34,356.50 153.07,355.83 153.81,355.43 154.55,355.27 155.28,355.31 156.02,355.51 156.76,355.85 157.49,356.30 158.23,356.83 158.97,357.44 159.70,358.11 160.44,358.81 161.18,359.55 161.91,360.31 162.65,361.08 163.39,361.86 164.13,362.63 164.86,363.41 165.60,364.18 166.34,364.94 167.07,365.70 167.81,366.43 168.55,367.16 169.28,367.87 170.02,368.57 170.76,369.24 171.49,369.91 172.23,370.55 172.97,371.18 173.70,371.80 174.44,372.40 175.18,372.98 175.92,373.55 176.65,374.10 177.39,374.63 178.13,375.15 178.86,375.66 179.60,376.15 180.34,376.63 181.07,377.10 181.81,377.55 182.55,378.00 183.28,378.43 184.02,378.84 184.76,379.25 185.49,379.65 186.23,380.03 186.97,380.41 187.70,380.77 188.44,381.13 189.18,381.47 189.92,381.81 190.65,382.14 191.39,382.46 192.13,382.77 192.86,383.08 193.60,383.38 194.34,383.67 195.07,383.95 195.81,384.23 196.55,384.50 197.28,384.76 198.02,385.02 198.76,385.27 199.49,385.51 200.23,385.75 200.97,385.98 201.71,386.21 202.44,386.44 203.18,386.65 203.92,386.87 204.65,387.08 205.39,387.28 206.13,387.48 206.86,387.67 207.60,387.87 208.34,388.05 209.07,388.24 209.81,388.42 210.55,388.59 211.28,388.76 212.02,388.93 212.76,389.10 213.49,389.26 214.23,389.42 214.97,389.57 215.71,389.72 216.44,389.87 217.18,390.02 217.92,390.16 218.65,390.30 219.39,390.44 220.13,390.58 220.86,390.71 221.60,390.84 222.34,390.97 223.07,391.09 223.81,391.21 224.55,391.34 225.28,391.45 226.02,391.57 226.02,484.56 225.28,484.12 224.55,483.68 223.81,483.24 223.07,482.80 222.34,482.36 221.60,481.93 220.86,481.50 220.13,481.07 219.39,480.64 218.65,480.21 217.92,479.79 217.18,479.36 216.44,478.94 215.71,478.52 214.97,478.10 214.23,477.69 213.49,477.27 212.76,476.86 212.02,476.45 211.28,476.04 210.55,475.63 209.81,475.22 209.07,474.82 208.34,474.42 207.60,474.02 206.86,473.62 206.13,473.22 205.39,472.82 204.65,472.43 203.92,472.04 203.18,471.65 202.44,471.26 201.71,470.87 200.97,470.48 200.23,470.10 199.49,469.72 198.76,469.34 198.02,468.96 197.28,468.58 196.55,468.20 195.81,467.83 195.07,467.46 194.34,467.08 193.60,466.71 192.86,466.35 192.13,465.98 191.39,465.61 190.65,465.25 189.92,464.89 189.18,464.53 188.44,464.17 187.70,463.81 186.97,463.46 186.23,463.10 185.49,462.75 184.76,462.40 184.02,462.05 183.28,461.70 182.55,461.36 181.81,461.01 181.07,460.67 180.34,460.33 179.60,459.98 178.86,459.65 178.13,459.31 177.39,458.97 176.65,458.64 175.92,458.30 175.18,457.97 174.44,457.64 173.70,457.31 172.97,456.99 172.23,456.66 171.49,456.33 170.76,456.01 170.02,455.69 169.28,455.37 168.55,455.05 167.81,454.73 167.07,454.42 166.34,454.10 165.60,453.79 164.86,453.47 164.13,453.16 163.39,452.85 162.65,452.55 161.91,452.24 161.18,451.93 160.44,451.63 159.70,451.33 158.97,451.02 158.23,450.72 157.49,450.43 156.76,450.13 156.02,449.83 155.28,449.54 154.55,449.24 153.81,448.95 153.07,448.66 152.34,448.37 151.60,448.08 150.86,447.79 150.13,447.51 149.39,447.22 148.65,446.94 147.91,446.65 147.18,446.37 146.44,446.09 145.70,445.81 144.97,445.54 144.23,445.26 143.49,444.98 142.76,444.71 142.02,444.44 141.28,444.16 140.55,443.89 139.81,443.62 139.07,443.36 138.34,443.09"/>
<polygon fill="rgba(0,214,196,0.40)" points="226.02,484.56 226.94,484.01 227.86,483.45 228.78,482.89 229.70,482.32 230.62,481.76 231.54,481.19 232.45,480.61 233.37,480.04 234.29,479.46 235.21,478.88 236.13,478.29 237.05,477.70 237.97,477.11 238.89,476.52 239.81,475.92 240.72,475.32 241.64,474.72 242.56,474.11 243.48,473.50 244.40,472.89 245.32,472.27 246.24,471.66 247.16,471.03 248.08,470.41 249.00,469.78 249.91,469.15 250.83,468.52 251.75,467.88 252.67,467.24 253.59,466.60 254.51,465.95 255.43,465.30 256.35,464.64 257.27,463.99 258.19,463.33 259.10,462.66 260.02,462.00 260.94,461.33 261.86,460.65 262.78,459.98 263.70,459.30 264.62,458.62 265.54,457.93 266.46,457.24 267.38,456.55 268.29,455.85 269.21,455.15 270.13,454.45 271.05,453.74 271.97,453.03 272.89,452.31 273.81,451.60 274.73,450.88 275.65,450.15 276.57,449.43 277.48,448.69 278.40,447.96 279.32,447.22 280.24,446.48 281.16,445.73 282.08,444.99 283.00,444.23 283.92,443.48 284.84,442.72 285.75,441.95 286.67,441.19 287.59,440.42 288.51,439.64 289.43,438.87 290.35,438.08 291.27,437.30 292.19,436.51 293.11,435.72 294.03,434.92 294.94,434.12 295.86,433.32 296.78,432.51 297.70,431.70 298.62,430.89 299.54,430.07 300.46,429.24 301.38,428.42 302.30,427.59 303.22,426.75 304.13,425.92 305.05,425.08 305.97,424.23 306.89,423.38 307.81,422.53 308.73,421.67 309.65,420.81 310.57,419.94 311.49,419.08 312.41,418.20 313.32,417.33 314.24,416.45 315.16,415.56 316.08,414.67 317.00,413.78 317.00,484.56 226.02,484.56"/>
<polyline fill="none" stroke="#ff0000" stroke-width="4.0" points="40.30,415.37 40.99,415.53 41.69,415.69 42.38,415.84 43.07,416.00 43.77,416.16 44.46,416.32 45.15,416.48 45.85,416.64 46.54,416.80 47.23,416.96 47.93,417.12 48.62,417.28 49.32,417.45 50.01,417.61 50.70,417.77 51.40,417.93 52.09,418.10 52.78,418.26 53.48,418.43 54.17,418.59 54.86,418.76 55.56,418.92 56.25,419.09 56.94,419.25 57.64,419.42 58.33,419.59 59.02,419.75 59.72,419.92 60.41,420.09 61.10,420.26 61.80,420.43 62.49,420.60 63.18,420.77 63.88,420.94 64.57,421.11 65.27,421.28 65.96,421.46 66.65,421.63 67.35,421.80 68.04,421.98 68.73,422.15 69.43,422.32 70.12,422.50 70.81,422.68 71.51,422.85 72.20,423.03 72.89,423.21 73.59,423.38 74.28,423.56 74.97,423.74 75.67,423.92 76.36,424.10 77.05,424.28 77.75,424.46 78.44,424.65 79.14,424.83 79.83,425.01 80.52,425.19 81.22,425.38 81.91,425.56 82.60,425.75 83.30,425.94 83.99,426.12 84.68,426.31 85.38,426.50 86.07,426.69 86.76,426.88 87.46,427.07 88.15,427.26 88.84,427.45 89.54,427.64 90.23,427.83 90.92,428.02 91.62,428.22 92.31,428.41 93.00,428.61 93.70,428.80 94.39,429.00 95.09,429.20 95.78,429.40 96.47,429.59 97.17,429.79 97.86,429.99 98.55,430.20 99.25,430.40 99.94,430.60 100.63,430.80 101.33,431.01 102.02,431.21 102.71,431.42 103.41,431.62 104.10,431.83 104.79,432.04 105.49,432.24 106.18,432.45 106.87,432.66 107.57,432.87 108.26,433.09 108.95,433.30 109.65,433.51 110.34,433.72 111.04,433.94 111.73,434.15 112.42,434.37 113.12,434.59 113.81,434.81 114.50,435.02 115.20,435.24 115.89,435.47 116.58,435.69 117.28,435.91 117.97,436.13 118.66,436.36 119.36,436.58 120.05,436.81 120.74,437.03 121.44,437.26 122.13,437.49 122.82,437.72 123.52,437.95 124.21,438.18 124.91,438.41 125.60,438.64 126.29,438.88 126.99,439.11 127.68,439.35 128.37,439.58 129.07,439.82 129.76,440.06 130.45,440.30 131.15,440.54 131.84,440.78 132.53,441.02 133.23,441.27 133.92,441.51 134.61,441.76 135.31,442.00 136.00,442.25 136.69,442.50 137.39,442.75 138.08,443.00 138.77,443.25 139.47,443.50 140.16,443.75 140.86,444.01 141.55,444.26 142.24,444.52 142.94,444.78 143.63,445.03 144.32,445.29 145.02,445.55 145.71,445.82 146.40,446.08 147.10,446.34 147.79,446.61 148.48,446.87 149.18,447.14 149.87,447.41 150.56,447.68 151.26,447.95 151.95,448.22 152.64,448.49 153.34,448.76 154.03,449.04 154.72,449.31 155.42,449.59 156.11,449.87 156.81,450.15 157.50,450.43 158.19,450.71 158.89,450.99 159.58,451.27 160.27,451.56 160.97,451.85 161.66,452.13 162.35,452.42 163.05,452.71 163.74,453.00 164.43,453.29 165.13,453.59 165.82,453.88 166.51,454.18 167.21,454.47 167.90,454.77 168.59,455.07 169.29,455.37 169.98,455.67 170.67,455.97 171.37,456.28 172.06,456.58 172.76,456.89 173.45,457.20 174.14,457.51 174.84,457.82 175.53,458.13 176.22,458.44 176.92,458.76 177.61,459.07 178.30,459.39 179.00,459.71 179.69,460.03 180.38,460.35 181.08,460.67 181.77,460.99 182.46,461.32 183.16,461.64 183.85,461.97 184.54,462.30 185.24,462.63 185.93,462.96 186.63,463.29 187.32,463.63 188.01,463.96 188.71,464.30 189.40,464.64 190.09,464.98 190.79,465.32 191.48,465.66 192.17,466.00 192.87,466.35 193.56,466.69 194.25,467.04 194.95,467.39 195.64,467.74 196.33,468.09 197.03,468.45 197.72,468.80 198.41,469.16 199.11,469.52 199.80,469.88 200.49,470.24 201.19,470.60 201.88,470.96 202.58,471.33 203.27,471.69 203.96,472.06 204.66,472.43 205.35,472.80 206.04,473.17 206.74,473.55 207.43,473.92 208.12,474.30 208.82,474.68 209.51,475.06 210.20,475.44 210.90,475.82 211.59,476.21 212.28,476.59 212.98,476.98 213.67,477.37 214.36,477.76 215.06,478.15 215.75,478.55 216.44,478.94 217.14,479.34 217.83,479.74 218.53,480.14 219.22,480.54 219.91,480.94 220.61,481.35 221.30,481.75 221.99,482.16 222.69,482.57 223.38,482.98 224.07,483.39 224.77,483.81 225.46,484.22 226.15,484.64 226.85,485.06 227.54,485.48 228.23,485.91 228.93,486.33 229.62,486.76 230.31,487.18 231.01,487.61 231.70,488.04 232.39,488.48 233.09,488.91 233.78,489.35 234.48,489.78 235.17,490.22 235.86,490.66 236.56,491.11 237.25,491.55 237.94,492.00 238.64,492.44 239.33,492.89 240.02,493.35 240.72,493.80 241.41,494.25 242.10,494.71 242.80,495.17 243.49,495.63 244.18,496.09 244.88,496.55 245.57,497.02 246.26,497.49 246.96,497.95 247.65,498.43 248.35,498.90 249.04,499.37 249.73,499.85 250.43,500.33 251.12,500.81 251.81,501.29 252.51,501.77 253.20,502.26 253.89,502.74 254.59,503.23 255.28,503.72 255.97,504.21 256.67,504.71 257.36,505.20 258.05,505.70 258.75,506.20 259.44,506.70 260.13,507.21 260.83,507.71 261.52,508.22 262.21,508.73 262.91,509.24 263.60,509.75 264.30,510.27 264.99,510.79 265.68,511.30 266.38,511.83 267.07,512.35 267.76,512.87 268.46,513.40 269.15,513.93 269.84,514.46 270.54,514.99 271.23,515.52 271.92,516.06 272.62,516.60 273.31,517.14 274.00,517.68 274.70,518.22 275.39,518.77 276.08,519.32 276.78,519.87 277.47,520.42 278.16,520.97 278.86,521.53 279.55,522.09 280.25,522.65 280.94,523.21 281.63,523.78 282.33,524.34 283.02,524.91 283.71,525.48 284.41,526.05 285.10,526.63 285.79,527.20 286.49,527.78 287.18,528.36 287.87,528.94 288.57,529.53 289.26,530.12 289.95,530.70 290.65,531.29 291.34,531.89 292.03,532.48 292.73,533.08 293.42,533.68 294.12,534.28 294.81,534.88 295.50,535.49 296.20,536.10 296.89,536.71 297.58,537.32 298.28,537.93 298.97,538.55 299.66,539.17 300.36,539.79 301.05,540.41 301.74,541.04 302.44,541.66 303.13,542.29 303.82,542.92 304.52,543.56 305.21,544.19 305.90,544.83 306.60,545.47 307.29,546.12 307.98,546.76 308.68,547.41 309.37,548.06 310.07,548.71 310.76,549.36 311.45,550.02 312.15,550.67 312.84,551.34 313.53,552.00 314.23,552.66 314.92,553.33 315.61,554.00 316.31,554.67 317.00,555.34"/>
<polyline fill="none" stroke="#0000ff" stroke-width="4.0" points="40.30,419.52 40.65,419.55 40.99,419.58 41.34,419.61 41.69,419.63 42.03,419.66 42.38,419.69 42.72,419.72 43.07,419.75 43.42,419.78 43.76,419.81 44.11,419.84 44.46,419.87 44.80,419.90 45.15,419.93 45.49,419.96 45.84,419.99 46.19,420.03 46.53,420.06 46.88,420.09 47.23,420.12 47.57,420.16 47.92,420.19 48.27,420.22 48.61,420.26 48.96,420.29 49.30,420.32 49.65,420.36 50.00,420.39 50.34,420.43 50.69,420.46 51.04,420.50 51.38,420.53 51.73,420.57 52.07,420.61 52.42,420.64 52.77,420.68 53.11,420.72 53.46,420.76 53.81,420.79 54.15,420.83 54.50,420.87 54.84,420.91 55.19,420.95 55.54,420.99 55.88,421.03 56.23,421.07 56.58,421.11 56.92,421.15 57.27,421.19 57.62,421.24 57.96,421.28 58.31,421.32 58.65,421.36 59.00,421.41 59.35,421.45 59.69,421.50 60.04,421.54 60.39,421.59 60.73,421.63 61.08,421.68 61.42,421.72 61.77,421.77 62.12,421.82 62.46,421.86 62.81,421.91 63.16,421.96 63.50,422.01 63.85,422.06 64.20,422.11 64.54,422.16 64.89,422.21 65.23,422.26 65.58,422.31 65.93,422.36 66.27,422.42 66.62,422.47 66.97,422.52 67.31,422.58 67.66,422.63 68.00,422.69 68.35,422.74 68.70,422.80 69.04,422.86 69.39,422.91 69.74,422.97 70.08,423.03 70.43,423.09 70.78,423.15 71.12,423.21 71.47,423.27 71.81,423.33 72.16,423.39 72.51,423.46 72.85,423.52 73.20,423.58 73.55,423.65 73.89,423.71 74.24,423.78 74.58,423.85 74.93,423.91 75.28,423.98 75.62,424.05 75.97,424.12 76.32,424.19 76.66,424.26 77.01,424.33 77.35,424.41 77.70,424.48 78.05,424.55 78.39,424.63 78.74,424.70 79.09,424.78 79.43,424.86 79.78,424.94 80.13,425.02 80.47,425.10 80.82,425.18 81.16,425.26 81.51,425.34 81.86,425.42 82.20,425.51 82.55,425.59 82.90,425.68 83.24,425.77 83.59,425.86 83.93,425.94 84.28,426.04 84.63,426.13 84.97,426.22 85.32,426.31 85.67,426.41 86.01,426.50 86.36,426.60 86.71,426.70 87.05,426.80 87.40,426.90 87.74,427.00 88.09,427.10 88.44,427.21 88.78,427.31 89.13,427.42 89.48,427.52 89.82,427.63 90.17,427.74 90.51,427.86 90.86,427.97 91.21,428.08 91.55,428.20 91.90,428.32 92.25,428.44 92.59,428.56 92.94,428.68 93.29,428.80 93.63,428.93 93.98,429.06 94.32,429.18 94.67,429.31 95.02,429.45 95.36,429.58 95.71,429.72 96.06,429.85 96.40,429.99 96.75,430.13 97.09,430.28 97.44,430.42 97.79,430.57 98.13,430.72 98.48,430.87 98.83,431.02 99.17,431.18 99.52,431.33 99.86,431.49 100.21,431.65 100.56,431.82 100.90,431.98 101.25,432.15 101.60,432.32 101.94,432.50 102.29,432.67 102.64,432.85 102.98,433.03 103.33,433.22 103.67,433.40 104.02,433.59 104.37,433.79 104.71,433.98 105.06,434.18 105.41,434.38 105.75,434.58 106.10,434.79 106.44,435.00 106.79,435.21 107.14,435.43 107.48,435.65 107.83,435.87 108.18,436.10 108.52,436.33 108.87,436.56 109.22,436.80 109.56,437.04 109.91,437.29 110.25,437.53 110.60,437.79 110.95,438.04 111.29,438.30 111.64,438.57 111.99,438.84 112.33,439.11 112.68,439.39 113.02,439.67 113.37,439.95 113.72,440.25 114.06,440.54 114.41,440.84 114.76,441.14 115.10,441.45 115.45,441.77 115.80,442.09 116.14,442.41 116.49,442.74 116.83,443.07 117.18,443.41 117.53,443.75 117.87,444.10 118.22,444.46 118.57,444.81 118.91,445.18 119.26,445.55 119.60,445.92 119.95,446.30 120.30,446.68 120.64,447.07 120.99,447.46 121.34,447.86 121.68,448.26 122.03,448.66 122.37,449.07 122.72,449.49 123.07,449.90 123.41,450.32 123.76,450.74 124.11,451.16 124.45,451.59 124.80,452.01 125.15,452.44 125.49,452.86 125.84,453.29 126.18,453.71 126.53,454.13 126.88,454.54 127.22,454.94 127.57,455.34 127.92,455.73 128.26,456.11 128.61,456.48 128.95,456.83 129.30,457.16 129.65,457.47 129.99,457.75 130.34,458.01 130.69,458.24 131.03,458.44 131.38,458.59 131.73,458.70 132.07,458.76 132.42,458.77 132.76,458.71 133.11,458.59 133.46,458.39 133.80,458.12 134.15,457.75 134.50,457.28 134.84,456.71 135.19,456.02 135.53,455.21 135.88,454.26 136.23,453.18 136.57,451.94 136.92,450.54 137.27,448.98 137.61,447.25 137.96,445.35 138.31,443.27 138.65,441.02 139.00,438.60 139.34,436.01 139.69,433.28 140.04,430.41 140.38,427.42 140.73,424.34 141.08,421.18 141.42,417.97 141.77,414.73 142.11,411.50 142.46,408.28 142.81,405.09 143.15,401.97 143.50,398.91 143.85,395.93 144.19,393.04 144.54,390.24 144.88,387.54 145.23,384.95 145.58,382.47 145.92,380.10 146.27,377.85 146.62,375.71 146.96,373.69 147.31,371.79 147.66,370.01 148.00,368.34 148.35,366.79 148.69,365.36 149.04,364.04 149.39,362.84 149.73,361.74 150.08,360.74 150.43,359.84 150.77,359.04 151.12,358.34 151.46,357.71 151.81,357.17 152.16,356.71 152.50,356.32 152.85,356.00 153.20,355.74 153.54,355.55 153.89,355.40 154.24,355.31 154.58,355.27 154.93,355.26 155.27,355.30 155.62,355.38 155.97,355.49 156.31,355.63 156.66,355.79 157.01,355.99 157.35,356.20 157.70,356.44 158.04,356.69 158.39,356.96 158.74,357.25 159.08,357.55 159.43,357.86 159.78,358.18 160.12,358.50 160.47,358.84 160.82,359.18 161.16,359.53 161.51,359.89 161.85,360.24 162.20,360.61 162.55,360.97 162.89,361.33 163.24,361.70 163.59,362.06 163.93,362.43 164.28,362.80 164.62,363.16 164.97,363.53 165.32,363.89 165.66,364.25 166.01,364.61 166.36,364.96 166.70,365.32 167.05,365.67 167.39,366.02 167.74,366.37 168.09,366.71 168.43,367.05 168.78,367.39 169.13,367.72 169.47,368.05 169.82,368.38 170.17,368.70 170.51,369.02 170.86,369.34 171.20,369.65 171.55,369.96 171.90,370.26 172.24,370.57 172.59,370.86 172.94,371.16 173.28,371.45 173.63,371.74 173.97,372.02 174.32,372.30 174.67,372.58 175.01,372.85 175.36,373.12 175.71,373.39 176.05,373.65 176.40,373.91 176.75,374.16 177.09,374.42 177.44,374.67 177.78,374.91 178.13,375.16 178.48,375.40 178.82,375.63 179.17,375.87 179.52,376.10 179.86,376.33 180.21,376.55 180.55,376.77 180.90,376.99 181.25,377.21 181.59,377.42 181.94,377.63 182.29,377.84 182.63,378.05 182.98,378.25 183.33,378.45 183.67,378.65 184.02,378.84 184.36,379.03 184.71,379.22 185.06,379.41 185.40,379.60 185.75,379.78 186.10,379.96 186.44,380.14 186.79,380.32 187.13,380.49 187.48,380.66 187.83,380.83 188.17,381.00 188.52,381.17 188.87,381.33 189.21,381.49 189.56,381.65 189.91,381.81 190.25,381.96 190.60,382.12 190.94,382.27 191.29,382.42 191.64,382.57 191.98,382.71 192.33,382.86 192.68,383.00 193.02,383.14 193.37,383.28 193.71,383.42 194.06,383.56 194.41,383.69 194.75,383.83 195.10,383.96 195.45,384.09 195.79,384.22 196.14,384.35 196.48,384.47 196.83,384.60 197.18,384.72 197.52,384.84 197.87,384.96 198.22,385.08 198.56,385.20 198.91,385.32 199.26,385.43 199.60,385.55 199.95,385.66 200.29,385.77 200.64,385.88 200.99,385.99 201.33,386.10 201.68,386.20 202.03,386.31 202.37,386.41 202.72,386.52 203.06,386.62 203.41,386.72 203.76,386.82 204.10,386.92 204.45,387.02 204.80,387.12 205.14,387.21 205.49,387.31 205.84,387.40 206.18,387.49 206.53,387.59 206.87,387.68 207.22,387.77 207.57,387.86 207.91,387.95 208.26,388.03 208.61,388.12 208.95,388.21 209.30,388.29 209.64,388.37 209.99,388.46 210.34,388.54 210.68,388.62 211.03,388.70 211.38,388.78 211.72,388.86 212.07,388.94 212.42,389.02 212.76,389.10 213.11,389.17 213.45,389.25 213.80,389.32 214.15,389.40 214.49,389.47 214.84,389.54 215.19,389.62 215.53,389.69 215.88,389.76 216.22,389.83 216.57,389.90 216.92,389.97 217.26,390.03 217.61,390.10 217.96,390.17 218.30,390.24 218.65,390.30 218.99,390.37 219.34,390.43 219.69,390.50 220.03,390.56 220.38,390.62 220.73,390.68 221.07,390.75 221.42,390.81 221.77,390.87 222.11,390.93 222.46,390.99 222.80,391.05 223.15,391.10 223.50,391.16 223.84,391.22 224.19,391.28 224.54,391.33 224.88,391.39 225.23,391.45 225.57,391.50 225.92,391.56 226.27,391.61 226.61,391.66 226.96,391.72 227.31,391.77 227.65,391.82 228.00,391.87 228.35,391.92 228.69,391.98 229.04,392.03 229.38,392.08 229.73,392.13 230.08,392.18 230.42,392.22 230.77,392.27 231.12,392.32 231.46,392.37 231.81,392.42 232.15,392.46 232.50,392.51 232.85,392.56 233.19,392.60 233.54,392.65 233.89,392.69 234.23,392.74 234.58,392.78 234.93,392.83 235.27,392.87 235.62,392.91 235.96,392.96 236.31,393.00 236.66,393.04 237.00,393.08 237.35,393.13 237.70,393.17 238.04,393.21 238.39,393.25 238.73,393.29 239.08,393.33 239.43,393.37 239.77,393.41 240.12,393.45 240.47,393.49 240.81,393.52 241.16,393.56 241.50,393.60 241.85,393.64 242.20,393.68 242.54,393.71 242.89,393.75 243.24,393.79 243.58,393.82 243.93,393.86 244.28,393.89 244.62,393.93 244.97,393.97 245.31,394.00 245.66,394.03 246.01,394.07 246.35,394.10 246.70,394.14 247.05,394.17 247.39,394.20 247.74,394.24 248.08,394.27 248.43,394.30 248.78,394.34 249.12,394.37 249.47,394.40 249.82,394.43 250.16,394.46 250.51,394.49 250.86,394.53 251.20,394.56 251.55,394.59 251.89,394.62 252.24,394.65 252.59,394.68 252.93,394.71 253.28,394.74 253.63,394.77 253.97,394.80 254.32,394.82 254.66,394.85 255.01,394.88 255.36,394.91 255.70,394.94 256.05,394.97 256.40,394.99 256.74,395.02 257.09,395.05 257.44,395.08 257.78,395.10 258.13,395.13 258.47,395.16 258.82,395.18 259.17,395.21 259.51,395.23 259.86,395.26 260.21,395.29 260.55,395.31 260.90,395.34 261.24,395.36 261.59,395.39 261.94,395.41 262.28,395.44 262.63,395.46 262.98,395.49 263.32,395.51 263.67,395.53 264.01,395.56 264.36,395.58 264.71,395.60 265.05,395.63 265.40,395.65 265.75,395.67 266.09,395.70 266.44,395.72 266.79,395.74 267.13,395.76 267.48,395.79 267.82,395.81 268.17,395.83 268.52,395.85 268.86,395.87 269.21,395.90 269.56,395.92 269.90,395.94 270.25,395.96 270.59,395.98 270.94,396.00 271.29,396.02 271.63,396.04 271.98,396.06 272.33,396.08 272.67,396.10 273.02,396.12 273.37,396.14 273.71,396.16 274.06,396.18 274.40,396.20 274.75,396.22 275.10,396.24 275.44,396.26 275.79,396.28 276.14,396.30 276.48,396.32 276.83,396.33 277.17,396.35 277.52,396.37 277.87,396.39 278.21,396.41 278.56,396.43 278.91,396.44 279.25,396.46 279.60,396.48 279.95,396.50 280.29,396.51 280.64,396.53 280.98,396.55 281.33,396.57 281.68,396.58 282.02,396.60 282.37,396.62 282.72,396.63 283.06,396.65 283.41,396.67 283.75,396.68 284.10,396.70 284.45,396.72 284.79,396.73 285.14,396.75 285.49,396.76 285.83,396.78 286.18,396.79 286.52,396.81 286.87,396.83 287.22,396.84 287.56,396.86 287.91,396.87 288.26,396.89 288.60,396.90 288.95,396.92 289.30,396.93 289.64,396.95 289.99,396.96 290.33,396.97 290.68,396.99 291.03,397.00 291.37,397.02 291.72,397.03 292.07,397.05 292.41,397.06 292.76,397.07 293.10,397.09 293.45,397.10 293.80,397.11 294.14,397.13 294.49,397.14 294.84,397.16 295.18,397.17 295.53,397.18 295.88,397.19 296.22,397.21 296.57,397.22 296.91,397.23 297.26,397.25 297.61,397.26 297.95,397.27 298.30,397.28 298.65,397.30 298.99,397.31 299.34,397.32 299.68,397.33 300.03,397.35 300.38,397.36 300.72,397.37 301.07,397.38 301.42,397.39 301.76,397.41 302.11,397.42 302.46,397.43 302.80,397.44 303.15,397.45 303.49,397.46 303.84,397.48 304.19,397.49 304.53,397.50 304.88,397.51 305.23,397.52 305.57,397.53 305.92,397.54 306.26,397.55 306.61,397.56 306.96,397.57 307.30,397.58 307.65,397.60 308.00,397.61 308.34,397.62 308.69,397.63 309.03,397.64 309.38,397.65 309.73,397.66 310.07,397.67 310.42,397.68 310.77,397.69 311.11,397.70 311.46,397.71 311.81,397.72 312.15,397.73 312.50,397.74 312.84,397.75 313.19,397.76 313.54,397.77 313.88,397.78 314.23,397.78 314.58,397.79 314.92,397.80 315.27,397.81 315.61,397.82 315.96,397.83 316.31,397.84 316.65,397.85 317.00,397.86"/>
<polyline fill="none" stroke="#800080" stroke-width="2" stroke-dasharray="5.5,3" points="226.02,484.56 226.94,484.01 227.86,483.45 228.78,482.89 229.70,482.32 230.62,481.76 231.54,481.19 232.45,480.61 233.37,480.04 234.29,479.46 235.21,478.88 236.13,478.29 237.05,477.70 237.97,477.11 238.89,476.52 239.81,475.92 240.72,475.32 241.64,474.72 242.56,474.11 243.48,473.50 244.40,472.89 245.32,472.27 246.24,471.66 247.16,471.03 248.08,470.41 249.00,469.78 249.91,469.15 250.83,468.52 251.75,467.88 252.67,467.24 253.59,466.60 254.51,465.95 255.43,465.30 256.35,464.64 257.27,463.99 258.19,463.33 259.10,462.66 260.02,462.00 260.94,461.33 261.86,460.65 262.78,459.98 263.70,459.30 264.62,458.62 265.54,457.93 266.46,457.24 267.38,456.55 268.29,455.85 269.21,455.15 270.13,454.45 271.05,453.74 271.97,453.03 272.89,452.31 273.81,451.60 274.73,450.88 275.65,450.15 276.57,449.43 277.48,448.69 278.40,447.96 279.32,447.22 280.24,446.48 281.16,445.73 282.08,444.99 283.00,444.23 283.92,443.48 284.84,442.72 285.75,441.95 286.67,441.19 287.59,440.42 288.51,439.64 289.43,438.87 290.35,438.08 291.27,437.30 292.19,436.51 293.11,435.72 294.03,434.92 294.94,434.12 295.86,433.32 296.78,432.51 297.70,431.70 298.62,430.89 299.54,430.07 300.46,429.24 301.38,428.42 302.30,427.59 303.22,426.75 304.13,425.92 305.05,425.08 305.97,424.23 306.89,423.38 307.81,422.53 308.73,421.67 309.65,420.81 310.57,419.94 311.49,419.08 312.41,418.20 313.32,417.33 314.24,416.45 315.16,415.56 316.08,414.67 317.00,413.78"/>
</g>
<line x1="40.30" y1="484.56" x2="317.00" y2="484.56" stroke="#000" stroke-width="2" stroke-dasharray="2,4.5"/>
<line x1="226.02" y1="484.56" x2="226.02" y2="391.57" stroke="#000" stroke-width="2" stroke-dasharray="2,4.5"/>
<rect x="40.30" y="331.80" width="276.70" height="222.20" fill="none" stroke="#161616" stroke-width="1.5"/>
<line x1="67.97" y1="554.00" x2="67.97" y2="549.50" stroke="#000" stroke-width="1.3"/>
<text x="67.97" y="569.90" text-anchor="middle" class="tk">260</text>
<line x1="123.31" y1="554.00" x2="123.31" y2="549.50" stroke="#000" stroke-width="1.3"/>
<text x="123.31" y="569.90" text-anchor="middle" class="tk">280</text>
<line x1="178.65" y1="554.00" x2="178.65" y2="549.50" stroke="#000" stroke-width="1.3"/>
<text x="178.65" y="569.90" text-anchor="middle" class="tk">300</text>
<line x1="233.99" y1="554.00" x2="233.99" y2="549.50" stroke="#000" stroke-width="1.3"/>
<text x="233.99" y="569.90" text-anchor="middle" class="tk">320</text>
<line x1="289.33" y1="554.00" x2="289.33" y2="549.50" stroke="#000" stroke-width="1.3"/>
<text x="289.33" y="569.90" text-anchor="middle" class="tk">340</text>
<line x1="95.64" y1="554.00" x2="95.64" y2="551.50" stroke="#000" stroke-width="1.3"/>
<line x1="150.98" y1="554.00" x2="150.98" y2="551.50" stroke="#000" stroke-width="1.3"/>
<line x1="206.32" y1="554.00" x2="206.32" y2="551.50" stroke="#000" stroke-width="1.3"/>
<line x1="261.66" y1="554.00" x2="261.66" y2="551.50" stroke="#000" stroke-width="1.3"/>
<line x1="40.30" y1="540.11" x2="44.80" y2="540.11" stroke="#000" stroke-width="1.3"/>
<text x="35.50" y="544.11" text-anchor="end" class="tk">-4</text>
<line x1="40.30" y1="512.34" x2="44.80" y2="512.34" stroke="#000" stroke-width="1.3"/>
<text x="35.50" y="516.34" text-anchor="end" class="tk">-2</text>
<line x1="40.30" y1="484.56" x2="44.80" y2="484.56" stroke="#000" stroke-width="1.3"/>
<text x="35.50" y="488.56" text-anchor="end" class="tk">0</text>
<line x1="40.30" y1="456.79" x2="44.80" y2="456.79" stroke="#000" stroke-width="1.3"/>
<text x="35.50" y="460.79" text-anchor="end" class="tk">2</text>
<line x1="40.30" y1="429.01" x2="44.80" y2="429.01" stroke="#000" stroke-width="1.3"/>
<text x="35.50" y="433.01" text-anchor="end" class="tk">4</text>
<line x1="40.30" y1="401.24" x2="44.80" y2="401.24" stroke="#000" stroke-width="1.3"/>
<text x="35.50" y="405.24" text-anchor="end" class="tk">6</text>
<line x1="40.30" y1="373.46" x2="44.80" y2="373.46" stroke="#000" stroke-width="1.3"/>
<text x="35.50" y="377.46" text-anchor="end" class="tk">8</text>
<line x1="40.30" y1="345.69" x2="44.80" y2="345.69" stroke="#000" stroke-width="1.3"/>
<text x="35.50" y="349.69" text-anchor="end" class="tk">10</text>
<line x1="40.30" y1="554.00" x2="42.80" y2="554.00" stroke="#000" stroke-width="1.3"/>
<line x1="40.30" y1="526.23" x2="42.80" y2="526.23" stroke="#000" stroke-width="1.3"/>
<line x1="40.30" y1="498.45" x2="42.80" y2="498.45" stroke="#000" stroke-width="1.3"/>
<line x1="40.30" y1="470.68" x2="42.80" y2="470.68" stroke="#000" stroke-width="1.3"/>
<line x1="40.30" y1="442.90" x2="42.80" y2="442.90" stroke="#000" stroke-width="1.3"/>
<line x1="40.30" y1="415.12" x2="42.80" y2="415.12" stroke="#000" stroke-width="1.3"/>
<line x1="40.30" y1="387.35" x2="42.80" y2="387.35" stroke="#000" stroke-width="1.3"/>
<line x1="40.30" y1="359.58" x2="42.80" y2="359.58" stroke="#000" stroke-width="1.3"/>
<g clip-path="url(#cd)">
<polyline fill="none" stroke="#ff0000" stroke-width="4.0" points="391.90,517.23 392.59,517.22 393.28,517.20 393.97,517.19 394.66,517.18 395.35,517.17 396.04,517.16 396.73,517.15 397.42,517.13 398.11,517.12 398.79,517.11 399.48,517.10 400.17,517.08 400.86,517.07 401.55,517.06 402.24,517.04 402.93,517.03 403.62,517.01 404.31,517.00 405.00,516.99 405.69,516.97 406.38,516.96 407.07,516.94 407.76,516.92 408.45,516.91 409.14,516.89 409.83,516.88 410.52,516.86 411.21,516.84 411.89,516.83 412.58,516.81 413.27,516.79 413.96,516.77 414.65,516.76 415.34,516.74 416.03,516.72 416.72,516.70 417.41,516.68 418.10,516.66 418.79,516.64 419.48,516.62 420.17,516.60 420.86,516.58 421.55,516.56 422.24,516.54 422.93,516.52 423.62,516.50 424.31,516.48 424.99,516.46 425.68,516.44 426.37,516.42 427.06,516.39 427.75,516.37 428.44,516.35 429.13,516.33 429.82,516.30 430.51,516.28 431.20,516.26 431.89,516.23 432.58,516.21 433.27,516.18 433.96,516.16 434.65,516.14 435.34,516.11 436.03,516.09 436.72,516.06 437.41,516.04 438.09,516.01 438.78,515.98 439.47,515.96 440.16,515.93 440.85,515.90 441.54,515.88 442.23,515.85 442.92,515.82 443.61,515.80 444.30,515.77 444.99,515.74 445.68,515.71 446.37,515.68 447.06,515.65 447.75,515.63 448.44,515.60 449.13,515.57 449.82,515.54 450.51,515.51 451.19,515.48 451.88,515.45 452.57,515.42 453.26,515.39 453.95,515.35 454.64,515.32 455.33,515.29 456.02,515.26 456.71,515.23 457.40,515.20 458.09,515.16 458.78,515.13 459.47,515.10 460.16,515.07 460.85,515.03 461.54,515.00 462.23,514.96 462.92,514.93 463.61,514.90 464.29,514.86 464.98,514.83 465.67,514.79 466.36,514.76 467.05,514.72 467.74,514.69 468.43,514.65 469.12,514.61 469.81,514.58 470.50,514.54 471.19,514.51 471.88,514.47 472.57,514.43 473.26,514.39 473.95,514.36 474.64,514.32 475.33,514.28 476.02,514.24 476.71,514.20 477.39,514.16 478.08,514.13 478.77,514.09 479.46,514.05 480.15,514.01 480.84,513.97 481.53,513.93 482.22,513.89 482.91,513.85 483.60,513.80 484.29,513.76 484.98,513.72 485.67,513.68 486.36,513.64 487.05,513.60 487.74,513.55 488.43,513.51 489.12,513.47 489.81,513.43 490.49,513.38 491.18,513.34 491.87,513.30 492.56,513.25 493.25,513.21 493.94,513.16 494.63,513.12 495.32,513.07 496.01,513.03 496.70,512.98 497.39,512.94 498.08,512.89 498.77,512.85 499.46,512.80 500.15,512.76 500.84,512.71 501.53,512.66 502.22,512.61 502.91,512.57 503.59,512.52 504.28,512.47 504.97,512.42 505.66,512.38 506.35,512.33 507.04,512.28 507.73,512.23 508.42,512.18 509.11,512.13 509.80,512.08 510.49,512.03 511.18,511.98 511.87,511.93 512.56,511.88 513.25,511.83 513.94,511.78 514.63,511.73 515.32,511.68 516.01,511.63 516.69,511.57 517.38,511.52 518.07,511.47 518.76,511.42 519.45,511.36 520.14,511.31 520.83,511.26 521.52,511.20 522.21,511.15 522.90,511.10 523.59,511.04 524.28,510.99 524.97,510.93 525.66,510.88 526.35,510.82 527.04,510.77 527.73,510.71 528.42,510.66 529.11,510.60 529.79,510.54 530.48,510.49 531.17,510.43 531.86,510.37 532.55,510.32 533.24,510.26 533.93,510.20 534.62,510.14 535.31,510.09 536.00,510.03 536.69,509.97 537.38,509.91 538.07,509.85 538.76,509.79 539.45,509.73 540.14,509.67 540.83,509.61 541.52,509.55 542.21,509.49 542.89,509.43 543.58,509.37 544.27,509.31 544.96,509.25 545.65,509.19 546.34,509.13 547.03,509.06 547.72,509.00 548.41,508.94 549.10,508.88 549.79,508.81 550.48,508.75 551.17,508.69 551.86,508.62 552.55,508.56 553.24,508.50 553.93,508.43 554.62,508.37 555.31,508.30 555.99,508.24 556.68,508.17 557.37,508.11 558.06,508.04 558.75,507.98 559.44,507.91 560.13,507.84 560.82,507.78 561.51,507.71 562.20,507.64 562.89,507.58 563.58,507.51 564.27,507.44 564.96,507.37 565.65,507.30 566.34,507.24 567.03,507.17 567.72,507.10 568.41,507.03 569.09,506.96 569.78,506.89 570.47,506.82 571.16,506.75 571.85,506.68 572.54,506.61 573.23,506.54 573.92,506.47 574.61,506.40 575.30,506.33 575.99,506.25 576.68,506.18 577.37,506.11 578.06,506.04 578.75,505.97 579.44,505.89 580.13,505.82 580.82,505.75 581.51,505.67 582.19,505.60 582.88,505.53 583.57,505.45 584.26,505.38 584.95,505.30 585.64,505.23 586.33,505.15 587.02,505.08 587.71,505.00 588.40,504.93 589.09,504.85 589.78,504.77 590.47,504.70 591.16,504.62 591.85,504.54 592.54,504.47 593.23,504.39 593.92,504.31 594.61,504.23 595.29,504.16 595.98,504.08 596.67,504.00 597.36,503.92 598.05,503.84 598.74,503.76 599.43,503.68 600.12,503.60 600.81,503.52 601.50,503.44 602.19,503.36 602.88,503.28 603.57,503.20 604.26,503.12 604.95,503.04 605.64,502.96 606.33,502.88 607.02,502.80 607.71,502.71 608.39,502.63 609.08,502.55 609.77,502.47 610.46,502.38 611.15,502.30 611.84,502.22 612.53,502.13 613.22,502.05 613.91,501.96 614.60,501.88 615.29,501.79 615.98,501.71 616.67,501.62 617.36,501.54 618.05,501.45 618.74,501.37 619.43,501.28 620.12,501.19 620.81,501.11 621.49,501.02 622.18,500.93 622.87,500.85 623.56,500.76 624.25,500.67 624.94,500.58 625.63,500.50 626.32,500.41 627.01,500.32 627.70,500.23 628.39,500.14 629.08,500.05 629.77,499.96 630.46,499.87 631.15,499.78 631.84,499.69 632.53,499.60 633.22,499.51 633.91,499.42 634.59,499.33 635.28,499.24 635.97,499.15 636.66,499.06 637.35,498.96 638.04,498.87 638.73,498.78 639.42,498.69 640.11,498.59 640.80,498.50 641.49,498.41 642.18,498.31 642.87,498.22 643.56,498.12 644.25,498.03 644.94,497.94 645.63,497.84 646.32,497.75 647.01,497.65 647.69,497.56 648.38,497.46 649.07,497.36 649.76,497.27 650.45,497.17 651.14,497.07 651.83,496.98 652.52,496.88 653.21,496.78 653.90,496.69 654.59,496.59 655.28,496.49 655.97,496.39 656.66,496.29 657.35,496.20 658.04,496.10 658.73,496.00 659.42,495.90 660.11,495.80 660.79,495.70 661.48,495.60 662.17,495.50 662.86,495.40 663.55,495.30 664.24,495.20 664.93,495.09 665.62,494.99 666.31,494.89 667.00,494.79"/>
<polyline fill="none" stroke="#0000ff" stroke-width="4.0" points="391.90,518.47 392.24,518.46 392.59,518.44 392.93,518.43 393.28,518.41 393.62,518.40 393.97,518.38 394.31,518.37 394.65,518.35 395.00,518.33 395.34,518.32 395.69,518.30 396.03,518.29 396.38,518.27 396.72,518.25 397.06,518.24 397.41,518.22 397.75,518.20 398.10,518.19 398.44,518.17 398.79,518.15 399.13,518.13 399.47,518.11 399.82,518.10 400.16,518.08 400.51,518.06 400.85,518.04 401.20,518.02 401.54,518.00 401.88,517.98 402.23,517.96 402.57,517.94 402.92,517.92 403.26,517.90 403.61,517.88 403.95,517.86 404.29,517.84 404.64,517.82 404.98,517.80 405.33,517.77 405.67,517.75 406.02,517.73 406.36,517.71 406.71,517.68 407.05,517.66 407.39,517.64 407.74,517.61 408.08,517.59 408.43,517.56 408.77,517.54 409.12,517.51 409.46,517.49 409.80,517.46 410.15,517.44 410.49,517.41 410.84,517.38 411.18,517.36 411.53,517.33 411.87,517.30 412.21,517.27 412.56,517.24 412.90,517.21 413.25,517.19 413.59,517.16 413.94,517.13 414.28,517.10 414.62,517.06 414.97,517.03 415.31,517.00 415.66,516.97 416.00,516.94 416.35,516.90 416.69,516.87 417.03,516.84 417.38,516.80 417.72,516.77 418.07,516.73 418.41,516.70 418.76,516.66 419.10,516.62 419.44,516.59 419.79,516.55 420.13,516.51 420.48,516.47 420.82,516.43 421.17,516.39 421.51,516.35 421.85,516.31 422.20,516.27 422.54,516.22 422.89,516.18 423.23,516.14 423.58,516.09 423.92,516.05 424.26,516.00 424.61,515.96 424.95,515.91 425.30,515.86 425.64,515.81 425.99,515.76 426.33,515.71 426.67,515.66 427.02,515.61 427.36,515.56 427.71,515.50 428.05,515.45 428.40,515.39 428.74,515.34 429.08,515.28 429.43,515.22 429.77,515.16 430.12,515.10 430.46,515.04 430.81,514.98 431.15,514.92 431.50,514.85 431.84,514.79 432.18,514.72 432.53,514.66 432.87,514.59 433.22,514.52 433.56,514.45 433.91,514.38 434.25,514.30 434.59,514.23 434.94,514.15 435.28,514.07 435.63,514.00 435.97,513.92 436.32,513.83 436.66,513.75 437.00,513.67 437.35,513.58 437.69,513.49 438.04,513.40 438.38,513.31 438.73,513.22 439.07,513.12 439.41,513.03 439.76,512.93 440.10,512.83 440.45,512.73 440.79,512.62 441.14,512.52 441.48,512.41 441.82,512.30 442.17,512.19 442.51,512.07 442.86,511.95 443.20,511.83 443.55,511.71 443.89,511.59 444.23,511.46 444.58,511.33 444.92,511.20 445.27,511.06 445.61,510.92 445.96,510.78 446.30,510.64 446.64,510.49 446.99,510.34 447.33,510.18 447.68,510.03 448.02,509.87 448.37,509.70 448.71,509.53 449.05,509.36 449.40,509.18 449.74,509.00 450.09,508.82 450.43,508.63 450.78,508.43 451.12,508.24 451.46,508.03 451.81,507.83 452.15,507.61 452.50,507.39 452.84,507.17 453.19,506.94 453.53,506.71 453.87,506.46 454.22,506.22 454.56,505.96 454.91,505.70 455.25,505.44 455.60,505.16 455.94,504.88 456.29,504.59 456.63,504.30 456.97,503.99 457.32,503.68 457.66,503.36 458.01,503.03 458.35,502.69 458.70,502.34 459.04,501.98 459.38,501.61 459.73,501.23 460.07,500.84 460.42,500.44 460.76,500.03 461.11,499.60 461.45,499.16 461.79,498.71 462.14,498.24 462.48,497.76 462.83,497.27 463.17,496.76 463.52,496.23 463.86,495.69 464.20,495.13 464.55,494.55 464.89,493.96 465.24,493.34 465.58,492.70 465.93,492.05 466.27,491.37 466.61,490.67 466.96,489.94 467.30,489.19 467.65,488.42 467.99,487.62 468.34,486.79 468.68,485.93 469.02,485.04 469.37,484.12 469.71,483.17 470.06,482.18 470.40,481.16 470.75,480.10 471.09,479.01 471.43,477.87 471.78,476.69 472.12,475.47 472.47,474.20 472.81,472.89 473.16,471.53 473.50,470.12 473.84,468.66 474.19,467.14 474.53,465.56 474.88,463.93 475.22,462.24 475.57,460.49 475.91,458.67 476.25,456.78 476.60,454.83 476.94,452.81 477.29,450.72 477.63,448.55 477.98,446.31 478.32,444.00 478.66,441.61 479.01,439.14 479.35,436.59 479.70,433.97 480.04,431.27 480.39,428.50 480.73,425.66 481.08,422.74 481.42,419.76 481.76,416.72 482.11,413.62 482.45,410.48 482.80,407.29 483.14,404.07 483.49,400.83 483.83,397.59 484.17,394.35 484.52,391.13 484.86,387.94 485.21,384.81 485.55,381.76 485.90,378.80 486.24,375.95 486.58,373.24 486.93,370.69 487.27,368.33 487.62,366.16 487.96,364.22 488.31,362.52 488.65,361.09 488.99,359.92 489.34,359.05 489.68,358.47 490.03,358.20 490.37,358.24 490.72,358.58 491.06,359.23 491.40,360.17 491.75,361.39 492.09,362.89 492.44,364.65 492.78,366.64 493.13,368.85 493.47,371.26 493.81,373.85 494.16,376.59 494.50,379.47 494.85,382.45 495.19,385.52 495.54,388.67 495.88,391.86 496.22,395.09 496.57,398.33 496.91,401.58 497.26,404.81 497.60,408.03 497.95,411.20 498.29,414.34 498.63,417.42 498.98,420.45 499.32,423.42 499.67,426.31 500.01,429.14 500.36,431.90 500.70,434.58 501.04,437.18 501.39,439.71 501.73,442.16 502.08,444.54 502.42,446.83 502.77,449.06 503.11,451.21 503.45,453.28 503.80,455.29 504.14,457.22 504.49,459.09 504.83,460.89 505.18,462.63 505.52,464.31 505.87,465.93 506.21,467.49 506.55,469.00 506.90,470.45 507.24,471.85 507.59,473.20 507.93,474.50 508.28,475.75 508.62,476.96 508.96,478.13 509.31,479.26 509.65,480.35 510.00,481.40 510.34,482.41 510.69,483.39 511.03,484.33 511.37,485.25 511.72,486.13 512.06,486.98 512.41,487.80 512.75,488.60 513.10,489.37 513.44,490.11 513.78,490.83 514.13,491.53 514.47,492.20 514.82,492.85 515.16,493.48 515.51,494.10 515.85,494.69 516.19,495.26 516.54,495.82 516.88,496.36 517.23,496.88 517.57,497.38 517.92,497.88 518.26,498.35 518.60,498.81 518.95,499.26 519.29,499.70 519.64,500.12 519.98,500.53 520.33,500.93 520.67,501.32 521.01,501.70 521.36,502.07 521.70,502.42 522.05,502.77 522.39,503.11 522.74,503.43 523.08,503.75 523.42,504.06 523.77,504.37 524.11,504.66 524.46,504.95 524.80,505.23 525.15,505.50 525.49,505.76 525.83,506.02 526.18,506.27 526.52,506.52 526.87,506.76 527.21,506.99 527.56,507.22 527.90,507.44 528.24,507.66 528.59,507.87 528.93,508.08 529.28,508.28 529.62,508.48 529.97,508.67 530.31,508.86 530.66,509.04 531.00,509.22 531.34,509.40 531.69,509.57 532.03,509.74 532.38,509.90 532.72,510.06 533.07,510.22 533.41,510.37 533.75,510.52 534.10,510.67 534.44,510.81 534.79,510.96 535.13,511.09 535.48,511.23 535.82,511.36 536.16,511.49 536.51,511.62 536.85,511.74 537.20,511.86 537.54,511.98 537.89,512.10 538.23,512.21 538.57,512.32 538.92,512.43 539.26,512.54 539.61,512.65 539.95,512.75 540.30,512.85 540.64,512.95 540.98,513.05 541.33,513.15 541.67,513.24 542.02,513.33 542.36,513.42 542.71,513.51 543.05,513.60 543.39,513.69 543.74,513.77 544.08,513.85 544.43,513.93 544.77,514.01 545.12,514.09 545.46,514.17 545.80,514.24 546.15,514.32 546.49,514.39 546.84,514.46 547.18,514.53 547.53,514.60 547.87,514.67 548.21,514.74 548.56,514.80 548.90,514.87 549.25,514.93 549.59,515.00 549.94,515.06 550.28,515.12 550.62,515.18 550.97,515.24 551.31,515.29 551.66,515.35 552.00,515.41 552.35,515.46 552.69,515.52 553.03,515.57 553.38,515.62 553.72,515.67 554.07,515.72 554.41,515.77 554.76,515.82 555.10,515.87 555.45,515.92 555.79,515.97 556.13,516.01 556.48,516.06 556.82,516.10 557.17,516.15 557.51,516.19 557.86,516.23 558.20,516.28 558.54,516.32 558.89,516.36 559.23,516.40 559.58,516.44 559.92,516.48 560.27,516.52 560.61,516.56 560.95,516.59 561.30,516.63 561.64,516.67 561.99,516.70 562.33,516.74 562.68,516.78 563.02,516.81 563.36,516.84 563.71,516.88 564.05,516.91 564.40,516.94 564.74,516.98 565.09,517.01 565.43,517.04 565.77,517.07 566.12,517.10 566.46,517.13 566.81,517.16 567.15,517.19 567.50,517.22 567.84,517.25 568.18,517.28 568.53,517.31 568.87,517.33 569.22,517.36 569.56,517.39 569.91,517.42 570.25,517.44 570.59,517.47 570.94,517.49 571.28,517.52 571.63,517.54 571.97,517.57 572.32,517.59 572.66,517.62 573.00,517.64 573.35,517.66 573.69,517.69 574.04,517.71 574.38,517.73 574.73,517.76 575.07,517.78 575.41,517.80 575.76,517.82 576.10,517.84 576.45,517.86 576.79,517.89 577.14,517.91 577.48,517.93 577.82,517.95 578.17,517.97 578.51,517.99 578.86,518.01 579.20,518.03 579.55,518.04 579.89,518.06 580.24,518.08 580.58,518.10 580.92,518.12 581.27,518.14 581.61,518.15 581.96,518.17 582.30,518.19 582.65,518.21 582.99,518.22 583.33,518.24 583.68,518.26 584.02,518.27 584.37,518.29 584.71,518.31 585.06,518.32 585.40,518.34 585.74,518.35 586.09,518.37 586.43,518.39 586.78,518.40 587.12,518.42 587.47,518.43 587.81,518.44 588.15,518.46 588.50,518.47 588.84,518.49 589.19,518.50 589.53,518.52 589.88,518.53 590.22,518.54 590.56,518.56 590.91,518.57 591.25,518.58 591.60,518.60 591.94,518.61 592.29,518.62 592.63,518.64 592.97,518.65 593.32,518.66 593.66,518.67 594.01,518.69 594.35,518.70 594.70,518.71 595.04,518.72 595.38,518.73 595.73,518.74 596.07,518.76 596.42,518.77 596.76,518.78 597.11,518.79 597.45,518.80 597.79,518.81 598.14,518.82 598.48,518.83 598.83,518.85 599.17,518.86 599.52,518.87 599.86,518.88 600.20,518.89 600.55,518.90 600.89,518.91 601.24,518.92 601.58,518.93 601.93,518.94 602.27,518.95 602.61,518.96 602.96,518.97 603.30,518.98 603.65,518.99 603.99,518.99 604.34,519.00 604.68,519.01 605.03,519.02 605.37,519.03 605.71,519.04 606.06,519.05 606.40,519.06 606.75,519.07 607.09,519.07 607.44,519.08 607.78,519.09 608.12,519.10 608.47,519.11 608.81,519.12 609.16,519.13 609.50,519.13 609.85,519.14 610.19,519.15 610.53,519.16 610.88,519.16 611.22,519.17 611.57,519.18 611.91,519.19 612.26,519.20 612.60,519.20 612.94,519.21 613.29,519.22 613.63,519.23 613.98,519.23 614.32,519.24 614.67,519.25 615.01,519.25 615.35,519.26 615.70,519.27 616.04,519.28 616.39,519.28 616.73,519.29 617.08,519.30 617.42,519.30 617.76,519.31 618.11,519.32 618.45,519.32 618.80,519.33 619.14,519.33 619.49,519.34 619.83,519.35 620.17,519.35 620.52,519.36 620.86,519.37 621.21,519.37 621.55,519.38 621.90,519.38 622.24,519.39 622.58,519.40 622.93,519.40 623.27,519.41 623.62,519.41 623.96,519.42 624.31,519.43 624.65,519.43 624.99,519.44 625.34,519.44 625.68,519.45 626.03,519.45 626.37,519.46 626.72,519.46 627.06,519.47 627.40,519.48 627.75,519.48 628.09,519.49 628.44,519.49 628.78,519.50 629.13,519.50 629.47,519.51 629.82,519.51 630.16,519.52 630.50,519.52 630.85,519.53 631.19,519.53 631.54,519.54 631.88,519.54 632.23,519.55 632.57,519.55 632.91,519.56 633.26,519.56 633.60,519.57 633.95,519.57 634.29,519.57 634.64,519.58 634.98,519.58 635.32,519.59 635.67,519.59 636.01,519.60 636.36,519.60 636.70,519.61 637.05,519.61 637.39,519.61 637.73,519.62 638.08,519.62 638.42,519.63 638.77,519.63 639.11,519.64 639.46,519.64 639.80,519.64 640.14,519.65 640.49,519.65 640.83,519.66 641.18,519.66 641.52,519.66 641.87,519.67 642.21,519.67 642.55,519.68 642.90,519.68 643.24,519.68 643.59,519.69 643.93,519.69 644.28,519.70 644.62,519.70 644.96,519.70 645.31,519.71 645.65,519.71 646.00,519.71 646.34,519.72 646.69,519.72 647.03,519.73 647.37,519.73 647.72,519.73 648.06,519.74 648.41,519.74 648.75,519.74 649.10,519.75 649.44,519.75 649.78,519.75 650.13,519.76 650.47,519.76 650.82,519.76 651.16,519.77 651.51,519.77 651.85,519.77 652.19,519.78 652.54,519.78 652.88,519.78 653.23,519.79 653.57,519.79 653.92,519.79 654.26,519.80 654.61,519.80 654.95,519.80 655.29,519.81 655.64,519.81 655.98,519.81 656.33,519.81 656.67,519.82 657.02,519.82 657.36,519.82 657.70,519.83 658.05,519.83 658.39,519.83 658.74,519.83 659.08,519.84 659.43,519.84 659.77,519.84 660.11,519.85 660.46,519.85 660.80,519.85 661.15,519.85 661.49,519.86 661.84,519.86 662.18,519.86 662.52,519.87 662.87,519.87 663.21,519.87 663.56,519.87 663.90,519.88 664.25,519.88 664.59,519.88 664.93,519.88 665.28,519.89 665.62,519.89 665.97,519.89 666.31,519.89 666.66,519.90 667.00,519.90"/>
</g>
<rect x="391.90" y="332.50" width="275.10" height="221.20" fill="none" stroke="#161616" stroke-width="1.5"/>
<line x1="418.10" y1="553.70" x2="418.10" y2="549.20" stroke="#000" stroke-width="1.3"/>
<text x="418.10" y="569.90" text-anchor="middle" class="tk">260</text>
<line x1="470.50" y1="553.70" x2="470.50" y2="549.20" stroke="#000" stroke-width="1.3"/>
<text x="470.50" y="569.90" text-anchor="middle" class="tk">280</text>
<line x1="522.90" y1="553.70" x2="522.90" y2="549.20" stroke="#000" stroke-width="1.3"/>
<text x="522.90" y="569.90" text-anchor="middle" class="tk">300</text>
<line x1="575.30" y1="553.70" x2="575.30" y2="549.20" stroke="#000" stroke-width="1.3"/>
<text x="575.30" y="569.90" text-anchor="middle" class="tk">320</text>
<line x1="627.70" y1="553.70" x2="627.70" y2="549.20" stroke="#000" stroke-width="1.3"/>
<text x="627.70" y="569.90" text-anchor="middle" class="tk">340</text>
<line x1="444.30" y1="553.70" x2="444.30" y2="551.20" stroke="#000" stroke-width="1.3"/>
<line x1="496.70" y1="553.70" x2="496.70" y2="551.20" stroke="#000" stroke-width="1.3"/>
<line x1="549.10" y1="553.70" x2="549.10" y2="551.20" stroke="#000" stroke-width="1.3"/>
<line x1="601.50" y1="553.70" x2="601.50" y2="551.20" stroke="#000" stroke-width="1.3"/>
<line x1="653.90" y1="553.70" x2="653.90" y2="551.20" stroke="#000" stroke-width="1.3"/>
<line x1="391.90" y1="520.52" x2="396.40" y2="520.52" stroke="#000" stroke-width="1.3"/>
<text x="387.10" y="524.52" text-anchor="end" class="tk">0</text>
<line x1="391.90" y1="476.28" x2="396.40" y2="476.28" stroke="#000" stroke-width="1.3"/>
<text x="387.10" y="480.28" text-anchor="end" class="tk">2</text>
<line x1="391.90" y1="432.04" x2="396.40" y2="432.04" stroke="#000" stroke-width="1.3"/>
<text x="387.10" y="436.04" text-anchor="end" class="tk">4</text>
<line x1="391.90" y1="387.80" x2="396.40" y2="387.80" stroke="#000" stroke-width="1.3"/>
<text x="387.10" y="391.80" text-anchor="end" class="tk">6</text>
<line x1="391.90" y1="343.56" x2="396.40" y2="343.56" stroke="#000" stroke-width="1.3"/>
<text x="387.10" y="347.56" text-anchor="end" class="tk">8</text>
<line x1="391.90" y1="542.64" x2="394.40" y2="542.64" stroke="#000" stroke-width="1.3"/>
<line x1="391.90" y1="498.40" x2="394.40" y2="498.40" stroke="#000" stroke-width="1.3"/>
<line x1="391.90" y1="454.16" x2="394.40" y2="454.16" stroke="#000" stroke-width="1.3"/>
<line x1="391.90" y1="409.92" x2="394.40" y2="409.92" stroke="#000" stroke-width="1.3"/>
<line x1="391.90" y1="365.68" x2="394.40" y2="365.68" stroke="#000" stroke-width="1.3"/>
<text transform="translate(161.37,17.10) scale(1.2684,1.0000)" font-size="21" font-weight="bold" fill="#000" >(a)</text>
<text transform="translate(517.12,17.10) scale(1.3227,1.0000)" font-size="21" font-weight="bold" fill="#000" >(b)</text>
<text transform="translate(161.71,320.80) scale(1.2302,1.0000)" font-size="21" font-weight="bold" fill="#000" >(c)</text>
<text transform="translate(518.51,320.60) scale(1.3308,1.0000)" font-size="21" font-weight="bold" fill="#000" >(d)</text>
<text transform="translate(130.29,283.20) scale(0.7823,1.0000)" font-size="15.5" font-weight="bold" fill="#000" stroke="#000" stroke-width="0.3">Frequency [THz]</text>
<text transform="translate(482.01,283.00) scale(0.7647,1.0000)" font-size="15.5" font-weight="bold" fill="#000" stroke="#000" stroke-width="0.3">Frequency [THz]</text>
<text transform="translate(130.96,590.00) scale(0.8106,1.0000)" font-size="15.5" font-weight="bold" fill="#000" stroke="#000" stroke-width="0.3">Temperature [K]</text>
<text transform="translate(480.26,589.90) scale(0.7988,1.0000)" font-size="15.5" font-weight="bold" fill="#000" stroke="#000" stroke-width="0.3">Temperature [K]</text>
<g transform="translate(11.60,182.50) rotate(-90)"><text transform="translate(-0.72,0.00) scale(0.7645,1.0000)" font-size="14" font-weight="bold" fill="#000" stroke="#000" stroke-width="0.3">Re</text><text transform="translate(18.30,-0.60) scale(0.9127,1.0000)" font-size="13.2" font-weight="bold" fill="#000" >(</text><text transform="translate(22.60,0.00) scale(1.0644,1.0000)" font-size="12.5" font-weight="bold" fill="#000" >&#x3b5;</text><path d="M32.0,-2.2 V4.9 M29.8,4.7 H34.2" stroke="#000" stroke-width="1.0" fill="none" opacity="0.75"/><text transform="translate(35.49,-0.60) scale(1.1006,1.0000)" font-size="13.2" font-weight="bold" fill="#000" >)</text><text transform="translate(43.04,0.00) scale(0.7988,1.0000)" font-size="14" font-weight="bold" fill="#000" >,</text><text transform="translate(50.08,0.00) scale(0.7645,1.0000)" font-size="14" font-weight="bold" fill="#000" stroke="#000" stroke-width="0.3">Re</text><text transform="translate(69.60,-0.60) scale(0.9127,1.0000)" font-size="13.2" font-weight="bold" fill="#000" >(</text><text transform="translate(73.90,0.00) scale(1.0644,1.0000)" font-size="12.5" font-weight="bold" fill="#000" >&#x3b5;</text><path d="M82.0,-2.8 V5.6 M84.4,-2.8 V5.6" stroke="#000" stroke-width="1.0" fill="none" opacity="0.75"/><text transform="translate(86.79,-0.60) scale(1.0737,1.0000)" font-size="13.2" font-weight="bold" fill="#000" >)</text></g>
<g transform="translate(361.50,182.00) rotate(-90)"><text transform="translate(-0.90,0.00) scale(0.9633,1.0000)" font-size="14" font-weight="bold" fill="#000" stroke="#000" stroke-width="0.3">Im</text><text transform="translate(18.30,-0.60) scale(0.9127,1.0000)" font-size="13.2" font-weight="bold" fill="#000" >(</text><text transform="translate(22.60,0.00) scale(1.0644,1.0000)" font-size="12.5" font-weight="bold" fill="#000" >&#x3b5;</text><path d="M32.0,-2.2 V4.9 M29.8,4.7 H34.2" stroke="#000" stroke-width="1.0" fill="none" opacity="0.75"/><text transform="translate(35.49,-0.60) scale(1.1006,1.0000)" font-size="13.2" font-weight="bold" fill="#000" >)</text><text transform="translate(43.04,0.00) scale(0.7988,1.0000)" font-size="14" font-weight="bold" fill="#000" >,</text><text transform="translate(49.90,0.00) scale(0.9633,1.0000)" font-size="14" font-weight="bold" fill="#000" stroke="#000" stroke-width="0.3">Im</text><text transform="translate(69.60,-0.60) scale(0.9127,1.0000)" font-size="13.2" font-weight="bold" fill="#000" >(</text><text transform="translate(73.90,0.00) scale(1.0644,1.0000)" font-size="12.5" font-weight="bold" fill="#000" >&#x3b5;</text><path d="M82.0,-2.8 V5.6 M84.4,-2.8 V5.6" stroke="#000" stroke-width="1.0" fill="none" opacity="0.75"/><text transform="translate(86.79,-0.60) scale(1.0737,1.0000)" font-size="13.2" font-weight="bold" fill="#000" >)</text></g>
<g transform="translate(15.90,489.30) rotate(-90)"><text transform="translate(-0.72,0.00) scale(0.7645,1.0000)" font-size="14" font-weight="bold" fill="#000" stroke="#000" stroke-width="0.3">Re</text><text transform="translate(18.30,-0.60) scale(0.9127,1.0000)" font-size="13.2" font-weight="bold" fill="#000" >(</text><text transform="translate(22.60,0.00) scale(1.0644,1.0000)" font-size="12.5" font-weight="bold" fill="#000" >&#x3b5;</text><path d="M32.0,-2.2 V4.9 M29.8,4.7 H34.2" stroke="#000" stroke-width="1.0" fill="none" opacity="0.75"/><text transform="translate(35.49,-0.60) scale(1.1006,1.0000)" font-size="13.2" font-weight="bold" fill="#000" >)</text><text transform="translate(43.04,0.00) scale(0.7988,1.0000)" font-size="14" font-weight="bold" fill="#000" >,</text><text transform="translate(50.08,0.00) scale(0.7645,1.0000)" font-size="14" font-weight="bold" fill="#000" stroke="#000" stroke-width="0.3">Re</text><text transform="translate(69.60,-0.60) scale(0.9127,1.0000)" font-size="13.2" font-weight="bold" fill="#000" >(</text><text transform="translate(73.90,0.00) scale(1.0644,1.0000)" font-size="12.5" font-weight="bold" fill="#000" >&#x3b5;</text><path d="M82.0,-2.8 V5.6 M84.4,-2.8 V5.6" stroke="#000" stroke-width="1.0" fill="none" opacity="0.75"/><text transform="translate(86.79,-0.60) scale(1.0737,1.0000)" font-size="13.2" font-weight="bold" fill="#000" >)</text></g>
<g transform="translate(363.50,488.90) rotate(-90)"><text transform="translate(-0.90,0.00) scale(0.9633,1.0000)" font-size="14" font-weight="bold" fill="#000" stroke="#000" stroke-width="0.3">Im</text><text transform="translate(18.30,-0.60) scale(0.9127,1.0000)" font-size="13.2" font-weight="bold" fill="#000" >(</text><text transform="translate(22.60,0.00) scale(1.0644,1.0000)" font-size="12.5" font-weight="bold" fill="#000" >&#x3b5;</text><path d="M32.0,-2.2 V4.9 M29.8,4.7 H34.2" stroke="#000" stroke-width="1.0" fill="none" opacity="0.75"/><text transform="translate(35.49,-0.60) scale(1.1006,1.0000)" font-size="13.2" font-weight="bold" fill="#000" >)</text><text transform="translate(43.04,0.00) scale(0.7988,1.0000)" font-size="14" font-weight="bold" fill="#000" >,</text><text transform="translate(49.90,0.00) scale(0.9633,1.0000)" font-size="14" font-weight="bold" fill="#000" stroke="#000" stroke-width="0.3">Im</text><text transform="translate(69.60,-0.60) scale(0.9127,1.0000)" font-size="13.2" font-weight="bold" fill="#000" >(</text><text transform="translate(73.90,0.00) scale(1.0644,1.0000)" font-size="12.5" font-weight="bold" fill="#000" >&#x3b5;</text><path d="M82.0,-2.8 V5.6 M84.4,-2.8 V5.6" stroke="#000" stroke-width="1.0" fill="none" opacity="0.75"/><text transform="translate(86.79,-0.60) scale(1.0737,1.0000)" font-size="13.2" font-weight="bold" fill="#000" >)</text></g>
<g transform="translate(194.10,70.40) scale(1.0,1.0)"><text transform="translate(-0.66,0.00) scale(0.9296,1.0000)" font-size="10.6" font-weight="bold" fill="#000" stroke="#000" stroke-width="0.25">Re</text><text transform="translate(15.39,0.00) scale(0.7602,1.0000)" font-size="12.9" font-weight="normal" fill="#000" stroke="#000" stroke-width="0.35">(</text><text transform="translate(19.07,0.00) scale(1.1347,1.0000)" font-size="11" font-weight="normal" fill="#000" stroke="#000" stroke-width="0.35">&#x3b5;</text><path d="M27.6,-0.9 V3.2 M25.1,3.2 H30.1" stroke="#000" stroke-width="0.9" fill="none" opacity="0.8"/><text transform="translate(30.74,0.00) scale(0.7894,1.0000)" font-size="12.9" font-weight="normal" fill="#000" stroke="#000" stroke-width="0.35">)</text></g>
<g transform="translate(160.10,175.90) scale(1.0,1.0)"><text transform="translate(-0.66,0.00) scale(0.9296,1.0000)" font-size="10.6" font-weight="bold" fill="#000" stroke="#000" stroke-width="0.25">Re</text><text transform="translate(15.39,0.00) scale(0.7602,1.0000)" font-size="12.9" font-weight="normal" fill="#000" stroke="#000" stroke-width="0.35">(</text><text transform="translate(19.07,0.00) scale(1.1347,1.0000)" font-size="11" font-weight="normal" fill="#000" stroke="#000" stroke-width="0.35">&#x3b5;</text><path d="M25.1,-2.9 V5 M27.3,-2.9 V5" stroke="#000" stroke-width="0.9" fill="none" opacity="0.8"/><text transform="translate(29.74,0.00) scale(0.7602,1.0000)" font-size="12.9" font-weight="normal" fill="#000" stroke="#000" stroke-width="0.35">)</text></g>
<g transform="translate(475.80,152.50) scale(1.0,1.0)"><text transform="translate(-0.78,0.00) scale(1.0996,1.0000)" font-size="10.6" font-weight="bold" fill="#000" stroke="#000" stroke-width="0.25">Im</text><text transform="translate(15.39,0.00) scale(0.7602,1.0000)" font-size="12.9" font-weight="normal" fill="#000" stroke="#000" stroke-width="0.35">(</text><text transform="translate(19.07,0.00) scale(1.1347,1.0000)" font-size="11" font-weight="normal" fill="#000" stroke="#000" stroke-width="0.35">&#x3b5;</text><path d="M25.1,-2.9 V5 M27.3,-2.9 V5" stroke="#000" stroke-width="0.9" fill="none" opacity="0.8"/><text transform="translate(29.74,0.00) scale(0.7602,1.0000)" font-size="12.9" font-weight="normal" fill="#000" stroke="#000" stroke-width="0.35">)</text></g>
<g transform="translate(413.80,212.50) scale(1.0,1.0)"><text transform="translate(-0.78,0.00) scale(1.0996,1.0000)" font-size="10.6" font-weight="bold" fill="#000" stroke="#000" stroke-width="0.25">Im</text><text transform="translate(15.39,0.00) scale(0.7602,1.0000)" font-size="12.9" font-weight="normal" fill="#000" stroke="#000" stroke-width="0.35">(</text><text transform="translate(19.07,0.00) scale(1.1347,1.0000)" font-size="11" font-weight="normal" fill="#000" stroke="#000" stroke-width="0.35">&#x3b5;</text><path d="M27.6,-0.9 V3.2 M25.1,3.2 H30.1" stroke="#000" stroke-width="0.9" fill="none" opacity="0.8"/><text transform="translate(30.74,0.00) scale(0.7894,1.0000)" font-size="12.9" font-weight="normal" fill="#000" stroke="#000" stroke-width="0.35">)</text></g>
<g transform="translate(180.80,362.50) scale(1.0,1.0)"><text transform="translate(-0.66,0.00) scale(0.9296,1.0000)" font-size="10.6" font-weight="bold" fill="#000" stroke="#000" stroke-width="0.25">Re</text><text transform="translate(15.39,0.00) scale(0.7602,1.0000)" font-size="12.9" font-weight="normal" fill="#000" stroke="#000" stroke-width="0.35">(</text><text transform="translate(19.07,0.00) scale(1.1347,1.0000)" font-size="11" font-weight="normal" fill="#000" stroke="#000" stroke-width="0.35">&#x3b5;</text><path d="M27.6,-0.9 V3.2 M25.1,3.2 H30.1" stroke="#000" stroke-width="0.9" fill="none" opacity="0.8"/><text transform="translate(30.74,0.00) scale(0.7894,1.0000)" font-size="12.9" font-weight="normal" fill="#000" stroke="#000" stroke-width="0.35">)</text></g>
<g transform="translate(219.00,521.60) scale(1.0,1.0)"><text transform="translate(-0.66,0.00) scale(0.9296,1.0000)" font-size="10.6" font-weight="bold" fill="#000" stroke="#000" stroke-width="0.25">Re</text><text transform="translate(15.39,0.00) scale(0.7602,1.0000)" font-size="12.9" font-weight="normal" fill="#000" stroke="#000" stroke-width="0.35">(</text><text transform="translate(19.07,0.00) scale(1.1347,1.0000)" font-size="11" font-weight="normal" fill="#000" stroke="#000" stroke-width="0.35">&#x3b5;</text><path d="M25.1,-2.9 V5 M27.3,-2.9 V5" stroke="#000" stroke-width="0.9" fill="none" opacity="0.8"/><text transform="translate(29.74,0.00) scale(0.7602,1.0000)" font-size="12.9" font-weight="normal" fill="#000" stroke="#000" stroke-width="0.35">)</text></g>
<g transform="translate(510.90,393.80) scale(1.0,1.0)"><text transform="translate(-0.66,0.00) scale(0.9296,1.0000)" font-size="10.6" font-weight="bold" fill="#000" stroke="#000" stroke-width="0.25">Re</text><text transform="translate(15.39,0.00) scale(0.7602,1.0000)" font-size="12.9" font-weight="normal" fill="#000" stroke="#000" stroke-width="0.35">(</text><text transform="translate(19.07,0.00) scale(1.1347,1.0000)" font-size="11" font-weight="normal" fill="#000" stroke="#000" stroke-width="0.35">&#x3b5;</text><path d="M27.6,-0.9 V3.2 M25.1,3.2 H30.1" stroke="#000" stroke-width="0.9" fill="none" opacity="0.8"/><text transform="translate(30.74,0.00) scale(0.7894,1.0000)" font-size="12.9" font-weight="normal" fill="#000" stroke="#000" stroke-width="0.35">)</text></g>
<g transform="translate(618.80,474.00) scale(1.0,1.0)"><text transform="translate(-0.66,0.00) scale(0.9296,1.0000)" font-size="10.6" font-weight="bold" fill="#000" stroke="#000" stroke-width="0.25">Re</text><text transform="translate(15.39,0.00) scale(0.7602,1.0000)" font-size="12.9" font-weight="normal" fill="#000" stroke="#000" stroke-width="0.35">(</text><text transform="translate(19.07,0.00) scale(1.1347,1.0000)" font-size="11" font-weight="normal" fill="#000" stroke="#000" stroke-width="0.35">&#x3b5;</text><path d="M25.1,-2.9 V5 M27.3,-2.9 V5" stroke="#000" stroke-width="0.9" fill="none" opacity="0.8"/><text transform="translate(29.74,0.00) scale(0.7602,1.0000)" font-size="12.9" font-weight="normal" fill="#000" stroke="#000" stroke-width="0.35">)</text></g>
<g transform="translate(123.00,43.60) scale(0.93,0.88)"><text transform="translate(-0.66,0.00) scale(0.9296,1.0000)" font-size="10.6" font-weight="bold" fill="#8b1a89" stroke="#8b1a89" stroke-width="0.25">Re</text><text transform="translate(15.39,0.00) scale(0.7602,1.0000)" font-size="12.9" font-weight="normal" fill="#8b1a89" stroke="#8b1a89" stroke-width="0.35">(</text><text transform="translate(19.07,0.00) scale(1.1347,1.0000)" font-size="11" font-weight="normal" fill="#8b1a89" stroke="#8b1a89" stroke-width="0.35">&#x3b5;</text><path d="M25.1,-2.9 V5 M27.3,-2.9 V5" stroke="#8b1a89" stroke-width="0.9" fill="none" opacity="0.8"/><text transform="translate(29.74,0.00) scale(0.7602,1.0000)" font-size="12.9" font-weight="normal" fill="#8b1a89" stroke="#8b1a89" stroke-width="0.35">)</text></g>
<path d="M118.7,32.3 V44.9 M157.4,32.3 V44.9" stroke="#8b1a89" stroke-width="1.1" opacity="0.85"/>
<g transform="translate(275.30,377.80) scale(0.94,0.93)"><text transform="translate(-0.66,0.00) scale(0.9296,1.0000)" font-size="10.6" font-weight="bold" fill="#8b1a89" stroke="#8b1a89" stroke-width="0.25">Re</text><text transform="translate(15.39,0.00) scale(0.7602,1.0000)" font-size="12.9" font-weight="normal" fill="#8b1a89" stroke="#8b1a89" stroke-width="0.35">(</text><text transform="translate(19.07,0.00) scale(1.1347,1.0000)" font-size="11" font-weight="normal" fill="#8b1a89" stroke="#8b1a89" stroke-width="0.35">&#x3b5;</text><path d="M25.1,-2.9 V5 M27.3,-2.9 V5" stroke="#8b1a89" stroke-width="0.9" fill="none" opacity="0.8"/><text transform="translate(29.74,0.00) scale(0.7602,1.0000)" font-size="12.9" font-weight="normal" fill="#8b1a89" stroke="#8b1a89" stroke-width="0.35">)</text></g>
<path d="M271.0,366.7 V379.6 M310.4,366.7 V379.6" stroke="#8b1a89" stroke-width="1.1" opacity="0.85"/>
<line x1="91.10" y1="54.10" x2="109.29" y2="43.37" stroke="#800080" stroke-width="2.1"/>
<polygon fill="#800080" points="116.70,39.00 109.70,46.03 107.16,41.72"/>
<line x1="278.90" y1="442.20" x2="286.06" y2="392.00" stroke="#800080" stroke-width="2.1"/>
<polygon fill="#800080" points="287.40,382.60 288.39,393.35 283.44,392.64"/>
<text transform="translate(241.87,105.90) scale(0.9409,1.0000)" font-size="12.0" font-weight="normal" fill="#111" >DSW Region</text>
<text transform="translate(152.68,423.90) scale(0.9394,1.0000)" font-size="12.0" font-weight="normal" fill="#111" >DSW Region</text>
<g transform="translate(53.8,81.9) rotate(34.7)"><text transform="translate(-0.88,0.00) scale(0.8795,1.0000)" font-size="12.2" font-weight="normal" fill="#111" >DPSW Region</text></g>
<g transform="translate(266.8,481.4) rotate(-36.4)"><text transform="translate(-0.83,0.00) scale(0.8934,1.0000)" font-size="11.3" font-weight="normal" fill="#111" >DPSW Region</text></g>
<rect x="249.40" y="35.80" width="62.70" height="23.40" fill="#000"/>
<rect x="246.40" y="32.80" width="62.70" height="23.40" fill="#fff" stroke="#555" stroke-width="0.9"/>
<text transform="translate(248.65,49.90) scale(0.9142,1.0000)" font-size="14.4" font-weight="bold" fill="#000" stroke="#000" stroke-width="0.25">T = 300 K</text>
<rect x="500.40" y="45.40" width="62.30" height="23.80" fill="#000"/>
<rect x="497.40" y="42.40" width="62.30" height="23.80" fill="#fff" stroke="#555" stroke-width="0.9"/>
<text transform="translate(499.55,59.90) scale(0.9110,1.0000)" font-size="14.2" font-weight="bold" fill="#000" stroke="#000" stroke-width="0.25">T = 300 K</text>
<rect x="58.20" y="353.20" width="76.50" height="26.40" fill="#000"/>
<rect x="55.20" y="350.20" width="76.50" height="26.40" fill="#fff" stroke="#555" stroke-width="0.9"/>
<g transform="translate(0,0)" fill="none" stroke="#000" stroke-linecap="round"><path d="M58.4,363.7 C59.3,362.5 60.3,362.6 60.9,364.3 L62.7,370.4" stroke-width="2.1"/><path d="M62.7,370.4 C64.4,368.4 65.5,366.0 65.8,363.5" stroke-width="1.5"/><circle cx="65.6" cy="363.6" r="1.0" fill="#000" stroke="none"/></g>
<text transform="translate(70.35,370.70) scale(0.9819,1.0000)" font-size="13.5" font-weight="bold" fill="#000" stroke="#000" stroke-width="0.25">= 0.5 THz</text>
<rect x="576.20" y="379.90" width="72.50" height="3.3" fill="#000"/>
<rect x="573.20" y="353.30" width="76.30" height="26.60" fill="#fff" stroke="#555" stroke-width="0.9"/>
<g transform="translate(517.8,3.2)" fill="none" stroke="#000" stroke-linecap="round"><path d="M58.4,363.7 C59.3,362.5 60.3,362.6 60.9,364.3 L62.7,370.4" stroke-width="2.1"/><path d="M62.7,370.4 C64.4,368.4 65.5,366.0 65.8,363.5" stroke-width="1.5"/><circle cx="65.6" cy="363.6" r="1.0" fill="#000" stroke="none"/></g>
<text transform="translate(588.15,373.90) scale(0.9853,1.0000)" font-size="13.5" font-weight="bold" fill="#000" stroke="#000" stroke-width="0.25">= 0.5 THz</text>
</svg></body></html>
